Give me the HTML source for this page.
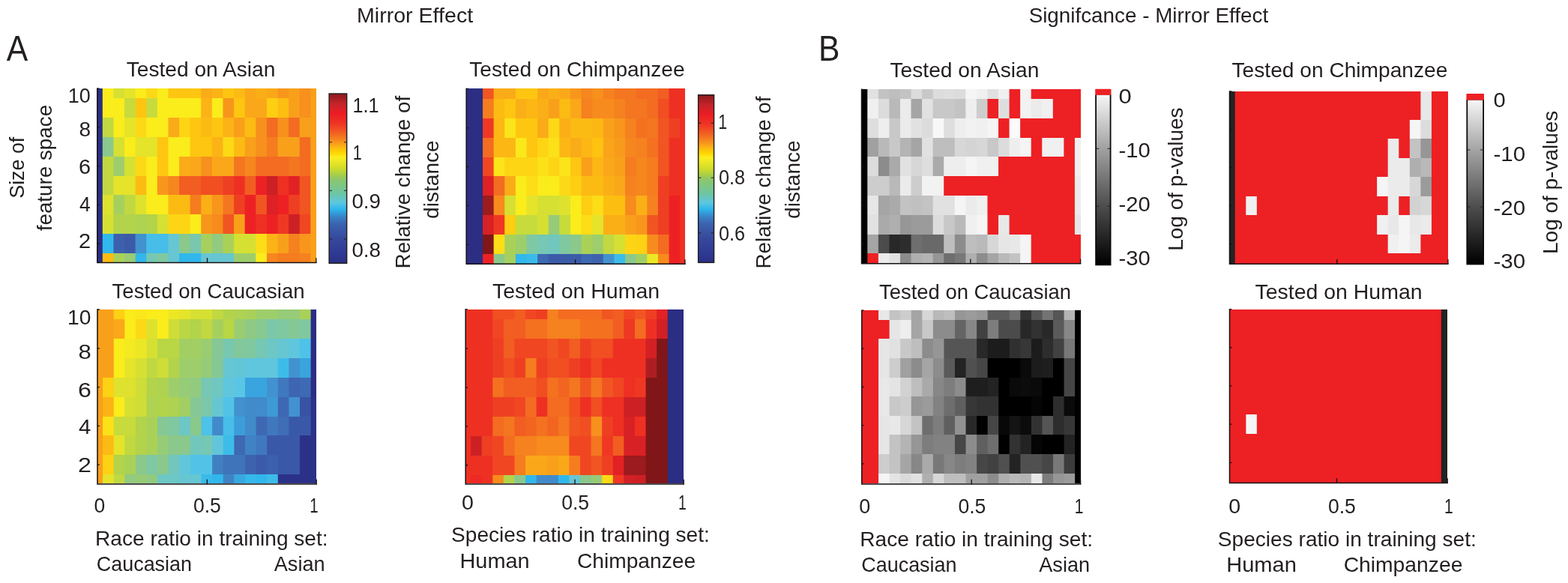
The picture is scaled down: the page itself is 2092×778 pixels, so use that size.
<!DOCTYPE html>
<html lang="en"><head><meta charset="utf-8"><title>Mirror Effect</title>
<style>
html,body{margin:0;padding:0;background:#fff}
body{width:2092px;height:778px;overflow:hidden}
svg{display:block}
text{font-family:"Liberation Sans",sans-serif;fill:#231f20}
</style></head><body>
<svg width="2092" height="778" viewBox="0 0 2092 778">
<defs><linearGradient id="gj" x1="0" y1="1" x2="0" y2="0"><stop offset="0.0000" stop-color="#2b2f86"/><stop offset="0.0570" stop-color="#2f3a93"/><stop offset="0.1425" stop-color="#36489c"/><stop offset="0.2290" stop-color="#3b62ae"/><stop offset="0.2700" stop-color="#3a7fc4"/><stop offset="0.3170" stop-color="#2db5ec"/><stop offset="0.3570" stop-color="#5cc8e0"/><stop offset="0.4050" stop-color="#6cc5a8"/><stop offset="0.4960" stop-color="#8cc76a"/><stop offset="0.5240" stop-color="#a8cf45"/><stop offset="0.5600" stop-color="#d0dc2a"/><stop offset="0.6250" stop-color="#fcee21"/><stop offset="0.6540" stop-color="#ffd400"/><stop offset="0.6820" stop-color="#fdb913"/><stop offset="0.7250" stop-color="#f6891f"/><stop offset="0.7760" stop-color="#f15a22"/><stop offset="0.8260" stop-color="#ee3424"/><stop offset="0.8830" stop-color="#ed1c24"/><stop offset="0.9400" stop-color="#c4242a"/><stop offset="1.0000" stop-color="#8e191c"/></linearGradient><linearGradient id="gg" x1="0" y1="0" x2="0" y2="1"><stop offset="0" stop-color="#f6f6f6"/><stop offset="0.32" stop-color="#a0a0a0"/><stop offset="0.65" stop-color="#4e4e4e"/><stop offset="1" stop-color="#000000"/></linearGradient></defs>
<rect width="2092" height="778" fill="#ffffff"/>
<g>
<rect x="129.60" y="118" width="292.40" height="13" fill="#2b2e83"/>
<rect x="136.80" y="118" width="285.20" height="13" fill="#fbec1c"/>
<rect x="151.41" y="118" width="270.60" height="13" fill="#d6e033"/>
<rect x="166.01" y="118" width="255.99" height="13" fill="#e5e42a"/>
<rect x="180.62" y="118" width="241.38" height="13" fill="#fbec1c"/>
<rect x="195.22" y="118" width="226.78" height="13" fill="#fcd916"/>
<rect x="209.83" y="118" width="212.17" height="13" fill="#fbec1c"/>
<rect x="224.43" y="118" width="197.57" height="13" fill="#fec610"/>
<rect x="268.25" y="118" width="153.75" height="13" fill="#faab18"/>
<rect x="282.85" y="118" width="139.15" height="13" fill="#fcb316"/>
<rect x="297.46" y="118" width="124.54" height="13" fill="#fec610"/>
<rect x="312.06" y="118" width="109.94" height="13" fill="#fcbb13"/>
<rect x="326.67" y="118" width="95.33" height="13" fill="#faa819"/>
<rect x="341.27" y="118" width="80.73" height="13" fill="#fbaf17"/>
<rect x="355.88" y="118" width="66.12" height="13" fill="#faa819"/>
<rect x="370.48" y="118" width="51.52" height="13" fill="#f8961c"/>
<rect x="385.09" y="118" width="36.91" height="13" fill="#f9a01b"/>
<rect x="399.69" y="118" width="22.31" height="13" fill="#f7901d"/>
<rect x="414.30" y="118" width="7.70" height="13" fill="#f9a01b"/>
<rect x="129.60" y="131" width="292.40" height="26" fill="#2b2e83"/>
<rect x="136.80" y="131" width="285.20" height="26" fill="#fbec1c"/>
<rect x="166.01" y="131" width="255.99" height="26" fill="#c8db3c"/>
<rect x="180.62" y="131" width="241.38" height="26" fill="#fec610"/>
<rect x="195.22" y="131" width="226.78" height="26" fill="#c8db3c"/>
<rect x="209.83" y="131" width="212.17" height="26" fill="#fbec1c"/>
<rect x="268.25" y="131" width="153.75" height="26" fill="#fcb316"/>
<rect x="282.85" y="131" width="139.15" height="26" fill="#fbec1c"/>
<rect x="297.46" y="131" width="124.54" height="26" fill="#f8961c"/>
<rect x="312.06" y="131" width="109.94" height="26" fill="#fec610"/>
<rect x="326.67" y="131" width="95.33" height="26" fill="#faa819"/>
<rect x="355.88" y="131" width="66.12" height="26" fill="#fdce12"/>
<rect x="370.48" y="131" width="51.52" height="26" fill="#fdbe12"/>
<rect x="385.09" y="131" width="36.91" height="26" fill="#f9a01b"/>
<rect x="399.69" y="131" width="22.31" height="26" fill="#f7901d"/>
<rect x="414.30" y="131" width="7.70" height="26" fill="#f9a01b"/>
<rect x="129.60" y="157" width="292.40" height="26" fill="#2b2e83"/>
<rect x="136.80" y="157" width="285.20" height="26" fill="#c1d841"/>
<rect x="151.41" y="157" width="270.60" height="26" fill="#fbec1c"/>
<rect x="166.01" y="157" width="255.99" height="26" fill="#e5e42a"/>
<rect x="180.62" y="157" width="241.38" height="26" fill="#fcd916"/>
<rect x="195.22" y="157" width="226.78" height="26" fill="#fbec1c"/>
<rect x="224.43" y="157" width="197.57" height="26" fill="#faab18"/>
<rect x="239.04" y="157" width="182.96" height="26" fill="#fdd515"/>
<rect x="253.64" y="157" width="168.36" height="26" fill="#fec610"/>
<rect x="268.25" y="157" width="153.75" height="26" fill="#fcbb13"/>
<rect x="282.85" y="157" width="139.15" height="26" fill="#fec610"/>
<rect x="297.46" y="157" width="124.54" height="26" fill="#fcb316"/>
<rect x="312.06" y="157" width="109.94" height="26" fill="#f9a01b"/>
<rect x="326.67" y="157" width="95.33" height="26" fill="#fcbb13"/>
<rect x="341.27" y="157" width="80.73" height="26" fill="#f7901d"/>
<rect x="355.88" y="157" width="66.12" height="26" fill="#f36c21"/>
<rect x="370.48" y="157" width="51.52" height="26" fill="#f7901d"/>
<rect x="385.09" y="157" width="36.91" height="26" fill="#f36c21"/>
<rect x="399.69" y="157" width="22.31" height="26" fill="#f9a01b"/>
<rect x="129.60" y="183" width="292.40" height="26" fill="#2b2e83"/>
<rect x="136.80" y="183" width="285.20" height="26" fill="#8ac88c"/>
<rect x="151.41" y="183" width="270.60" height="26" fill="#d6e033"/>
<rect x="166.01" y="183" width="255.99" height="26" fill="#fbec1c"/>
<rect x="180.62" y="183" width="241.38" height="26" fill="#e5e42a"/>
<rect x="209.83" y="183" width="212.17" height="26" fill="#fec610"/>
<rect x="224.43" y="183" width="197.57" height="26" fill="#fbec1c"/>
<rect x="253.64" y="183" width="168.36" height="26" fill="#fec610"/>
<rect x="282.85" y="183" width="139.15" height="26" fill="#fcb316"/>
<rect x="297.46" y="183" width="124.54" height="26" fill="#fcd916"/>
<rect x="312.06" y="183" width="109.94" height="26" fill="#fcbb13"/>
<rect x="326.67" y="183" width="95.33" height="26" fill="#f9a01b"/>
<rect x="341.27" y="183" width="80.73" height="26" fill="#f7901d"/>
<rect x="355.88" y="183" width="66.12" height="26" fill="#f57c1f"/>
<rect x="370.48" y="183" width="51.52" height="26" fill="#f9a01b"/>
<rect x="399.69" y="183" width="22.31" height="26" fill="#f36c21"/>
<rect x="414.30" y="183" width="7.70" height="26" fill="#f9a01b"/>
<rect x="129.60" y="209" width="292.40" height="26" fill="#2b2e83"/>
<rect x="136.80" y="209" width="285.20" height="26" fill="#c1d841"/>
<rect x="151.41" y="209" width="270.60" height="26" fill="#9ece6b"/>
<rect x="166.01" y="209" width="255.99" height="26" fill="#d6e033"/>
<rect x="180.62" y="209" width="241.38" height="26" fill="#fcd916"/>
<rect x="195.22" y="209" width="226.78" height="26" fill="#fbec1c"/>
<rect x="209.83" y="209" width="212.17" height="26" fill="#fec610"/>
<rect x="224.43" y="209" width="197.57" height="26" fill="#fbec1c"/>
<rect x="239.04" y="209" width="182.96" height="26" fill="#faab18"/>
<rect x="253.64" y="209" width="168.36" height="26" fill="#faa819"/>
<rect x="268.25" y="209" width="153.75" height="26" fill="#f7901d"/>
<rect x="282.85" y="209" width="139.15" height="26" fill="#faa819"/>
<rect x="312.06" y="209" width="109.94" height="26" fill="#f47620"/>
<rect x="326.67" y="209" width="95.33" height="26" fill="#f6861e"/>
<rect x="341.27" y="209" width="80.73" height="26" fill="#f36c21"/>
<rect x="385.09" y="209" width="36.91" height="26" fill="#f47620"/>
<rect x="399.69" y="209" width="22.31" height="26" fill="#f36c21"/>
<rect x="414.30" y="209" width="7.70" height="26" fill="#f9a01b"/>
<rect x="129.60" y="235" width="292.40" height="25" fill="#2b2e83"/>
<rect x="136.80" y="235" width="285.20" height="25" fill="#c1d841"/>
<rect x="151.41" y="235" width="270.60" height="25" fill="#e5e42a"/>
<rect x="180.62" y="235" width="241.38" height="25" fill="#fcbb13"/>
<rect x="195.22" y="235" width="226.78" height="25" fill="#fbec1c"/>
<rect x="209.83" y="235" width="212.17" height="25" fill="#f8961c"/>
<rect x="224.43" y="235" width="197.57" height="25" fill="#f6861e"/>
<rect x="239.04" y="235" width="182.96" height="25" fill="#f25d22"/>
<rect x="268.25" y="235" width="153.75" height="25" fill="#f14e22"/>
<rect x="297.46" y="235" width="124.54" height="25" fill="#ef3f23"/>
<rect x="312.06" y="235" width="109.94" height="25" fill="#ee3023"/>
<rect x="326.67" y="235" width="95.33" height="25" fill="#f25d22"/>
<rect x="341.27" y="235" width="80.73" height="25" fill="#ed2124"/>
<rect x="355.88" y="235" width="66.12" height="25" fill="#cd2025"/>
<rect x="370.48" y="235" width="51.52" height="25" fill="#ee3023"/>
<rect x="385.09" y="235" width="36.91" height="25" fill="#e22124"/>
<rect x="399.69" y="235" width="22.31" height="25" fill="#f15522"/>
<rect x="414.30" y="235" width="7.70" height="25" fill="#f9a01b"/>
<rect x="129.60" y="260" width="292.40" height="26" fill="#2b2e83"/>
<rect x="136.80" y="260" width="285.20" height="26" fill="#dee22e"/>
<rect x="151.41" y="260" width="270.60" height="26" fill="#a6d05e"/>
<rect x="166.01" y="260" width="255.99" height="26" fill="#c1d841"/>
<rect x="180.62" y="260" width="241.38" height="26" fill="#dee22e"/>
<rect x="195.22" y="260" width="226.78" height="26" fill="#fbec1c"/>
<rect x="224.43" y="260" width="197.57" height="26" fill="#fcbb13"/>
<rect x="253.64" y="260" width="168.36" height="26" fill="#f57c1f"/>
<rect x="268.25" y="260" width="153.75" height="26" fill="#fbaf17"/>
<rect x="282.85" y="260" width="139.15" height="26" fill="#f8961c"/>
<rect x="297.46" y="260" width="124.54" height="26" fill="#f47620"/>
<rect x="312.06" y="260" width="109.94" height="26" fill="#ef3f23"/>
<rect x="326.67" y="260" width="95.33" height="26" fill="#ed2124"/>
<rect x="341.27" y="260" width="80.73" height="26" fill="#f15522"/>
<rect x="355.88" y="260" width="66.12" height="26" fill="#dd2124"/>
<rect x="370.48" y="260" width="51.52" height="26" fill="#ed2124"/>
<rect x="385.09" y="260" width="36.91" height="26" fill="#ef3f23"/>
<rect x="399.69" y="260" width="22.31" height="26" fill="#f15522"/>
<rect x="414.30" y="260" width="7.70" height="26" fill="#f9a01b"/>
<rect x="129.60" y="286" width="292.40" height="26" fill="#2b2e83"/>
<rect x="136.80" y="286" width="285.20" height="26" fill="#d6e033"/>
<rect x="151.41" y="286" width="270.60" height="26" fill="#b2d34a"/>
<rect x="180.62" y="286" width="241.38" height="26" fill="#aed251"/>
<rect x="195.22" y="286" width="226.78" height="26" fill="#b2d34a"/>
<rect x="209.83" y="286" width="212.17" height="26" fill="#d6e033"/>
<rect x="224.43" y="286" width="197.57" height="26" fill="#fdd515"/>
<rect x="253.64" y="286" width="168.36" height="26" fill="#fbec1c"/>
<rect x="268.25" y="286" width="153.75" height="26" fill="#f8961c"/>
<rect x="282.85" y="286" width="139.15" height="26" fill="#f78b1d"/>
<rect x="297.46" y="286" width="124.54" height="26" fill="#f15522"/>
<rect x="312.06" y="286" width="109.94" height="26" fill="#f9a01b"/>
<rect x="326.67" y="286" width="95.33" height="26" fill="#ed2124"/>
<rect x="341.27" y="286" width="80.73" height="26" fill="#ee3023"/>
<rect x="355.88" y="286" width="66.12" height="26" fill="#ed2124"/>
<rect x="370.48" y="286" width="51.52" height="26" fill="#ef3823"/>
<rect x="385.09" y="286" width="36.91" height="26" fill="#cd2025"/>
<rect x="399.69" y="286" width="22.31" height="26" fill="#f04622"/>
<rect x="414.30" y="286" width="7.70" height="26" fill="#f9a01b"/>
<rect x="129.60" y="312" width="292.40" height="26" fill="#2b2e83"/>
<rect x="136.80" y="312" width="285.20" height="26" fill="#31b7ec"/>
<rect x="151.41" y="312" width="270.60" height="26" fill="#3c60ad"/>
<rect x="166.01" y="312" width="255.99" height="26" fill="#3b5ba9"/>
<rect x="180.62" y="312" width="241.38" height="26" fill="#4192cf"/>
<rect x="195.22" y="312" width="226.78" height="26" fill="#46bee9"/>
<rect x="224.43" y="312" width="197.57" height="26" fill="#66c6d2"/>
<rect x="239.04" y="312" width="182.96" height="26" fill="#8ac88c"/>
<rect x="253.64" y="312" width="168.36" height="26" fill="#78c7ae"/>
<rect x="268.25" y="312" width="153.75" height="26" fill="#a6d05e"/>
<rect x="282.85" y="312" width="139.15" height="26" fill="#92ca7f"/>
<rect x="297.46" y="312" width="124.54" height="26" fill="#aad157"/>
<rect x="312.06" y="312" width="109.94" height="26" fill="#d6e033"/>
<rect x="341.27" y="312" width="80.73" height="26" fill="#fcdd17"/>
<rect x="355.88" y="312" width="66.12" height="26" fill="#fcb316"/>
<rect x="370.48" y="312" width="51.52" height="26" fill="#f9a01b"/>
<rect x="385.09" y="312" width="36.91" height="26" fill="#f5811f"/>
<rect x="399.69" y="312" width="22.31" height="26" fill="#f8961c"/>
<rect x="414.30" y="312" width="7.70" height="26" fill="#f9a01b"/>
<rect x="129.60" y="338" width="292.40" height="12" fill="#2b2e83"/>
<rect x="136.80" y="338" width="285.20" height="12" fill="#fcbb13"/>
<rect x="151.41" y="338" width="270.60" height="12" fill="#aad157"/>
<rect x="166.01" y="338" width="255.99" height="12" fill="#9acc72"/>
<rect x="180.62" y="338" width="241.38" height="12" fill="#31b7ec"/>
<rect x="195.22" y="338" width="226.78" height="12" fill="#76c7b3"/>
<rect x="209.83" y="338" width="212.17" height="12" fill="#80c8a0"/>
<rect x="224.43" y="338" width="197.57" height="12" fill="#66c6d2"/>
<rect x="239.04" y="338" width="182.96" height="12" fill="#31b7ec"/>
<rect x="268.25" y="338" width="153.75" height="12" fill="#66c6d2"/>
<rect x="312.06" y="338" width="109.94" height="12" fill="#9ece6b"/>
<rect x="341.27" y="338" width="80.73" height="12" fill="#fbec1c"/>
<rect x="355.88" y="338" width="66.12" height="12" fill="#f6861e"/>
<rect x="370.48" y="338" width="51.52" height="12" fill="#f57c1f"/>
<rect x="399.69" y="338" width="22.31" height="12" fill="#f5811f"/>
<rect x="414.30" y="338" width="7.70" height="12" fill="#f9a01b"/>
</g>
<path d="M129.80 117.60V350.40H422.50" fill="none" stroke="#151112" stroke-width="1.5"/>
<path d="M276.50 350.70v-6.5M421.80 350.70v-6.5M129.60 169.96h3M129.60 221.64h3M129.60 273.32h3M129.60 325.00h3M129.60 118.10h3" fill="none" stroke="#151112" stroke-width="1.3"/>
<g>
<rect x="622.00" y="118" width="292.00" height="14" fill="#2b2e83"/>
<rect x="644.02" y="118" width="269.98" height="14" fill="#f15522"/>
<rect x="658.64" y="118" width="255.36" height="14" fill="#faab18"/>
<rect x="687.88" y="118" width="226.12" height="14" fill="#fec610"/>
<rect x="717.12" y="118" width="196.88" height="14" fill="#faa819"/>
<rect x="731.74" y="118" width="182.26" height="14" fill="#fbaf17"/>
<rect x="746.36" y="118" width="167.64" height="14" fill="#faa819"/>
<rect x="760.98" y="118" width="153.02" height="14" fill="#f8961c"/>
<rect x="775.60" y="118" width="138.40" height="14" fill="#f6861e"/>
<rect x="790.22" y="118" width="123.78" height="14" fill="#f7901d"/>
<rect x="804.84" y="118" width="109.16" height="14" fill="#f5811f"/>
<rect x="819.46" y="118" width="94.54" height="14" fill="#f47620"/>
<rect x="848.70" y="118" width="65.30" height="14" fill="#f36c21"/>
<rect x="877.94" y="118" width="36.06" height="14" fill="#f25d22"/>
<rect x="892.56" y="118" width="21.44" height="14" fill="#ee3023"/>
<rect x="622.00" y="132" width="292.00" height="26" fill="#2b2e83"/>
<rect x="644.02" y="132" width="269.98" height="26" fill="#f57c1f"/>
<rect x="658.64" y="132" width="255.36" height="26" fill="#fcbb13"/>
<rect x="673.26" y="132" width="240.74" height="26" fill="#fec610"/>
<rect x="687.88" y="132" width="226.12" height="26" fill="#fbaf17"/>
<rect x="702.50" y="132" width="211.50" height="26" fill="#fcb714"/>
<rect x="717.12" y="132" width="196.88" height="26" fill="#fbaf17"/>
<rect x="731.74" y="132" width="182.26" height="26" fill="#f9a01b"/>
<rect x="746.36" y="132" width="167.64" height="26" fill="#fcbb13"/>
<rect x="760.98" y="132" width="153.02" height="26" fill="#faa819"/>
<rect x="775.60" y="132" width="138.40" height="26" fill="#f5811f"/>
<rect x="790.22" y="132" width="123.78" height="26" fill="#f78b1d"/>
<rect x="819.46" y="132" width="94.54" height="26" fill="#f5811f"/>
<rect x="834.08" y="132" width="79.92" height="26" fill="#f47620"/>
<rect x="863.32" y="132" width="50.68" height="26" fill="#f36c21"/>
<rect x="877.94" y="132" width="36.06" height="26" fill="#f14e22"/>
<rect x="892.56" y="132" width="21.44" height="26" fill="#ee3023"/>
<rect x="622.00" y="158" width="292.00" height="26" fill="#2b2e83"/>
<rect x="644.02" y="158" width="269.98" height="26" fill="#ef3823"/>
<rect x="658.64" y="158" width="255.36" height="26" fill="#fcb714"/>
<rect x="673.26" y="158" width="240.74" height="26" fill="#fce41a"/>
<rect x="687.88" y="158" width="226.12" height="26" fill="#fec610"/>
<rect x="717.12" y="158" width="196.88" height="26" fill="#faab18"/>
<rect x="731.74" y="158" width="182.26" height="26" fill="#fcd916"/>
<rect x="746.36" y="158" width="167.64" height="26" fill="#fbaf17"/>
<rect x="760.98" y="158" width="153.02" height="26" fill="#fcbb13"/>
<rect x="790.22" y="158" width="123.78" height="26" fill="#fcb714"/>
<rect x="804.84" y="158" width="109.16" height="26" fill="#f9a01b"/>
<rect x="819.46" y="158" width="94.54" height="26" fill="#f8961c"/>
<rect x="834.08" y="158" width="79.92" height="26" fill="#f5811f"/>
<rect x="848.70" y="158" width="65.30" height="26" fill="#f47120"/>
<rect x="863.32" y="158" width="50.68" height="26" fill="#f47620"/>
<rect x="877.94" y="158" width="36.06" height="26" fill="#f15522"/>
<rect x="892.56" y="158" width="21.44" height="26" fill="#ef3f23"/>
<rect x="907.18" y="158" width="6.82" height="26" fill="#ee3023"/>
<rect x="622.00" y="184" width="292.00" height="26" fill="#2b2e83"/>
<rect x="644.02" y="184" width="269.98" height="26" fill="#f36c21"/>
<rect x="658.64" y="184" width="255.36" height="26" fill="#fcb714"/>
<rect x="687.88" y="184" width="226.12" height="26" fill="#fbe81b"/>
<rect x="702.50" y="184" width="211.50" height="26" fill="#fec610"/>
<rect x="717.12" y="184" width="196.88" height="26" fill="#fdd515"/>
<rect x="731.74" y="184" width="182.26" height="26" fill="#fce118"/>
<rect x="746.36" y="184" width="167.64" height="26" fill="#fcb714"/>
<rect x="760.98" y="184" width="153.02" height="26" fill="#faab18"/>
<rect x="775.60" y="184" width="138.40" height="26" fill="#fcb714"/>
<rect x="790.22" y="184" width="123.78" height="26" fill="#fec211"/>
<rect x="804.84" y="184" width="109.16" height="26" fill="#faa41a"/>
<rect x="819.46" y="184" width="94.54" height="26" fill="#f89b1c"/>
<rect x="834.08" y="184" width="79.92" height="26" fill="#f6861e"/>
<rect x="848.70" y="184" width="65.30" height="26" fill="#f5811f"/>
<rect x="863.32" y="184" width="50.68" height="26" fill="#f47120"/>
<rect x="877.94" y="184" width="36.06" height="26" fill="#f15522"/>
<rect x="892.56" y="184" width="21.44" height="26" fill="#ee3023"/>
<rect x="622.00" y="210" width="292.00" height="25" fill="#2b2e83"/>
<rect x="644.02" y="210" width="269.98" height="25" fill="#f04622"/>
<rect x="658.64" y="210" width="255.36" height="25" fill="#fce41a"/>
<rect x="673.26" y="210" width="240.74" height="25" fill="#fdd515"/>
<rect x="717.12" y="210" width="196.88" height="25" fill="#fce118"/>
<rect x="731.74" y="210" width="182.26" height="25" fill="#fdd515"/>
<rect x="746.36" y="210" width="167.64" height="25" fill="#fce41a"/>
<rect x="760.98" y="210" width="153.02" height="25" fill="#fec610"/>
<rect x="775.60" y="210" width="138.40" height="25" fill="#f9a01b"/>
<rect x="790.22" y="210" width="123.78" height="25" fill="#fcb714"/>
<rect x="804.84" y="210" width="109.16" height="25" fill="#faa819"/>
<rect x="819.46" y="210" width="94.54" height="25" fill="#f9a01b"/>
<rect x="834.08" y="210" width="79.92" height="25" fill="#f57c1f"/>
<rect x="848.70" y="210" width="65.30" height="25" fill="#f6861e"/>
<rect x="863.32" y="210" width="50.68" height="25" fill="#f57c1f"/>
<rect x="877.94" y="210" width="36.06" height="25" fill="#f15522"/>
<rect x="892.56" y="210" width="21.44" height="25" fill="#ee3023"/>
<rect x="622.00" y="235" width="292.00" height="26" fill="#2b2e83"/>
<rect x="644.02" y="235" width="269.98" height="26" fill="#dd2124"/>
<rect x="658.64" y="235" width="255.36" height="26" fill="#f36c21"/>
<rect x="673.26" y="235" width="240.74" height="26" fill="#faab18"/>
<rect x="687.88" y="235" width="226.12" height="26" fill="#fbec1c"/>
<rect x="702.50" y="235" width="211.50" height="26" fill="#fcdd17"/>
<rect x="717.12" y="235" width="196.88" height="26" fill="#fbec1c"/>
<rect x="746.36" y="235" width="167.64" height="26" fill="#fcd916"/>
<rect x="760.98" y="235" width="153.02" height="26" fill="#fdce12"/>
<rect x="775.60" y="235" width="138.40" height="26" fill="#fcbb13"/>
<rect x="804.84" y="235" width="109.16" height="26" fill="#fbaf17"/>
<rect x="819.46" y="235" width="94.54" height="26" fill="#faa819"/>
<rect x="834.08" y="235" width="79.92" height="26" fill="#f5811f"/>
<rect x="848.70" y="235" width="65.30" height="26" fill="#f6861e"/>
<rect x="863.32" y="235" width="50.68" height="26" fill="#f57c1f"/>
<rect x="877.94" y="235" width="36.06" height="26" fill="#ef3f23"/>
<rect x="892.56" y="235" width="21.44" height="26" fill="#ee3023"/>
<rect x="622.00" y="261" width="292.00" height="26" fill="#2b2e83"/>
<rect x="644.02" y="261" width="269.98" height="26" fill="#9c1b1e"/>
<rect x="658.64" y="261" width="255.36" height="26" fill="#f78b1d"/>
<rect x="673.26" y="261" width="240.74" height="26" fill="#d6e033"/>
<rect x="687.88" y="261" width="226.12" height="26" fill="#fbec1c"/>
<rect x="702.50" y="261" width="211.50" height="26" fill="#e5e42a"/>
<rect x="717.12" y="261" width="196.88" height="26" fill="#d6e033"/>
<rect x="746.36" y="261" width="167.64" height="26" fill="#dee22e"/>
<rect x="760.98" y="261" width="153.02" height="26" fill="#fbec1c"/>
<rect x="775.60" y="261" width="138.40" height="26" fill="#fdce12"/>
<rect x="790.22" y="261" width="123.78" height="26" fill="#fcdd17"/>
<rect x="804.84" y="261" width="109.16" height="26" fill="#fdbe12"/>
<rect x="834.08" y="261" width="79.92" height="26" fill="#f78b1d"/>
<rect x="848.70" y="261" width="65.30" height="26" fill="#fbaf17"/>
<rect x="863.32" y="261" width="50.68" height="26" fill="#f5811f"/>
<rect x="877.94" y="261" width="36.06" height="26" fill="#ef3f23"/>
<rect x="892.56" y="261" width="21.44" height="26" fill="#ed2124"/>
<rect x="907.18" y="261" width="6.82" height="26" fill="#ee3023"/>
<rect x="622.00" y="287" width="292.00" height="26" fill="#2b2e83"/>
<rect x="644.02" y="287" width="269.98" height="26" fill="#d82124"/>
<rect x="658.64" y="287" width="255.36" height="26" fill="#ef3823"/>
<rect x="673.26" y="287" width="240.74" height="26" fill="#fdce12"/>
<rect x="687.88" y="287" width="226.12" height="26" fill="#c8db3c"/>
<rect x="717.12" y="287" width="196.88" height="26" fill="#d6e033"/>
<rect x="731.74" y="287" width="182.26" height="26" fill="#96cb78"/>
<rect x="746.36" y="287" width="167.64" height="26" fill="#c8db3c"/>
<rect x="760.98" y="287" width="153.02" height="26" fill="#fbec1c"/>
<rect x="775.60" y="287" width="138.40" height="26" fill="#fcdd17"/>
<rect x="790.22" y="287" width="123.78" height="26" fill="#e5e42a"/>
<rect x="804.84" y="287" width="109.16" height="26" fill="#fbaf17"/>
<rect x="834.08" y="287" width="79.92" height="26" fill="#f9a01b"/>
<rect x="848.70" y="287" width="65.30" height="26" fill="#f8961c"/>
<rect x="863.32" y="287" width="50.68" height="26" fill="#f15522"/>
<rect x="877.94" y="287" width="36.06" height="26" fill="#ef3f23"/>
<rect x="892.56" y="287" width="21.44" height="26" fill="#ed2124"/>
<rect x="907.18" y="287" width="6.82" height="26" fill="#ee3023"/>
<rect x="622.00" y="313" width="292.00" height="26" fill="#2b2e83"/>
<rect x="644.02" y="313" width="269.98" height="26" fill="#801618"/>
<rect x="658.64" y="313" width="255.36" height="26" fill="#fcdd17"/>
<rect x="673.26" y="313" width="240.74" height="26" fill="#aad157"/>
<rect x="687.88" y="313" width="226.12" height="26" fill="#9ece6b"/>
<rect x="702.50" y="313" width="211.50" height="26" fill="#7ec8a4"/>
<rect x="717.12" y="313" width="196.88" height="26" fill="#76c7b3"/>
<rect x="731.74" y="313" width="182.26" height="26" fill="#71c7bd"/>
<rect x="746.36" y="313" width="167.64" height="26" fill="#80c8a0"/>
<rect x="760.98" y="313" width="153.02" height="26" fill="#8ac88c"/>
<rect x="775.60" y="313" width="138.40" height="26" fill="#aad157"/>
<rect x="790.22" y="313" width="123.78" height="26" fill="#9ece6b"/>
<rect x="804.84" y="313" width="109.16" height="26" fill="#c1d841"/>
<rect x="819.46" y="313" width="94.54" height="26" fill="#d6e033"/>
<rect x="834.08" y="313" width="79.92" height="26" fill="#fdd515"/>
<rect x="848.70" y="313" width="65.30" height="26" fill="#fdd114"/>
<rect x="863.32" y="313" width="50.68" height="26" fill="#f78b1d"/>
<rect x="877.94" y="313" width="36.06" height="26" fill="#f36c21"/>
<rect x="892.56" y="313" width="21.44" height="26" fill="#ed2124"/>
<rect x="907.18" y="313" width="6.82" height="26" fill="#ee3023"/>
<rect x="622.00" y="339" width="292.00" height="13" fill="#2b2e83"/>
<rect x="644.02" y="339" width="269.98" height="13" fill="#ed2124"/>
<rect x="658.64" y="339" width="255.36" height="13" fill="#8ac88c"/>
<rect x="673.26" y="339" width="240.74" height="13" fill="#a6d05e"/>
<rect x="687.88" y="339" width="226.12" height="13" fill="#31b7ec"/>
<rect x="702.50" y="339" width="211.50" height="13" fill="#39baeb"/>
<rect x="717.12" y="339" width="196.88" height="13" fill="#3e68b2"/>
<rect x="731.74" y="339" width="182.26" height="13" fill="#3b5ba9"/>
<rect x="775.60" y="339" width="138.40" height="13" fill="#3e68b2"/>
<rect x="790.22" y="339" width="123.78" height="13" fill="#3d63af"/>
<rect x="804.84" y="339" width="109.16" height="13" fill="#4192cf"/>
<rect x="819.46" y="339" width="94.54" height="13" fill="#3dbcea"/>
<rect x="834.08" y="339" width="79.92" height="13" fill="#8ac88c"/>
<rect x="848.70" y="339" width="65.30" height="13" fill="#a2cf64"/>
<rect x="863.32" y="339" width="50.68" height="13" fill="#ece725"/>
<rect x="877.94" y="339" width="36.06" height="13" fill="#f78b1d"/>
<rect x="892.56" y="339" width="21.44" height="13" fill="#ed2124"/>
<rect x="907.18" y="339" width="6.82" height="13" fill="#ee3023"/>
</g>
<path d="M622.20 117.80V352.35H914.60" fill="none" stroke="#151112" stroke-width="1.5"/>
<path d="M767.60 352.65v-6.5M913.90 352.65v-6.5M622.00 170.56h3M622.00 222.50h3M622.00 274.43h3M622.00 326.38h3M622.00 118.30h3" fill="none" stroke="#151112" stroke-width="1.3"/>
<g>
<rect x="129.80" y="413" width="292.20" height="13" fill="#f9a01b"/>
<rect x="151.70" y="413" width="270.30" height="13" fill="#fdd114"/>
<rect x="166.31" y="413" width="255.69" height="13" fill="#fbec1c"/>
<rect x="180.91" y="413" width="241.09" height="13" fill="#fbe81b"/>
<rect x="195.52" y="413" width="226.48" height="13" fill="#fbec1c"/>
<rect x="224.73" y="413" width="197.27" height="13" fill="#ece725"/>
<rect x="239.33" y="413" width="182.67" height="13" fill="#e5e42a"/>
<rect x="253.94" y="413" width="168.06" height="13" fill="#d6e033"/>
<rect x="283.15" y="413" width="138.85" height="13" fill="#c1d841"/>
<rect x="297.75" y="413" width="124.25" height="13" fill="#b2d34a"/>
<rect x="312.36" y="413" width="109.64" height="13" fill="#aed251"/>
<rect x="326.97" y="413" width="95.03" height="13" fill="#aad157"/>
<rect x="341.57" y="413" width="80.43" height="13" fill="#9ece6b"/>
<rect x="370.78" y="413" width="51.22" height="13" fill="#96cb78"/>
<rect x="399.99" y="413" width="22.01" height="13" fill="#aad157"/>
<rect x="414.60" y="413" width="7.40" height="13" fill="#2b2e83"/>
<rect x="129.80" y="426" width="292.20" height="26" fill="#f9a01b"/>
<rect x="151.70" y="426" width="270.30" height="26" fill="#faa819"/>
<rect x="166.31" y="426" width="255.69" height="26" fill="#fbec1c"/>
<rect x="180.91" y="426" width="241.09" height="26" fill="#fcd916"/>
<rect x="195.52" y="426" width="226.48" height="26" fill="#dee22e"/>
<rect x="210.12" y="426" width="211.88" height="26" fill="#fbec1c"/>
<rect x="224.73" y="426" width="197.27" height="26" fill="#cfdd38"/>
<rect x="239.33" y="426" width="182.67" height="26" fill="#b9d645"/>
<rect x="253.94" y="426" width="168.06" height="26" fill="#b2d34a"/>
<rect x="268.54" y="426" width="153.46" height="26" fill="#c1d841"/>
<rect x="283.15" y="426" width="138.85" height="26" fill="#a6d05e"/>
<rect x="297.75" y="426" width="124.25" height="26" fill="#b9d645"/>
<rect x="312.36" y="426" width="109.64" height="26" fill="#9acc72"/>
<rect x="326.97" y="426" width="95.03" height="26" fill="#8ec985"/>
<rect x="341.57" y="426" width="80.43" height="26" fill="#88c891"/>
<rect x="356.18" y="426" width="65.82" height="26" fill="#7bc7a9"/>
<rect x="370.78" y="426" width="51.22" height="26" fill="#80c8a0"/>
<rect x="385.38" y="426" width="36.62" height="26" fill="#85c896"/>
<rect x="399.99" y="426" width="22.01" height="26" fill="#80c8a0"/>
<rect x="414.60" y="426" width="7.40" height="26" fill="#2b2e83"/>
<rect x="129.80" y="452" width="292.20" height="26" fill="#f9a01b"/>
<rect x="151.70" y="452" width="270.30" height="26" fill="#fbec1c"/>
<rect x="166.31" y="452" width="255.69" height="26" fill="#f4ea21"/>
<rect x="180.91" y="452" width="241.09" height="26" fill="#ece725"/>
<rect x="195.52" y="452" width="226.48" height="26" fill="#d6e033"/>
<rect x="210.12" y="452" width="211.88" height="26" fill="#b9d645"/>
<rect x="239.33" y="452" width="182.67" height="26" fill="#a2cf64"/>
<rect x="268.54" y="452" width="153.46" height="26" fill="#9acc72"/>
<rect x="283.15" y="452" width="138.85" height="26" fill="#85c896"/>
<rect x="297.75" y="452" width="124.25" height="26" fill="#78c7ae"/>
<rect x="312.36" y="452" width="109.64" height="26" fill="#82c89b"/>
<rect x="326.97" y="452" width="95.03" height="26" fill="#80c8a0"/>
<rect x="341.57" y="452" width="80.43" height="26" fill="#76c7b3"/>
<rect x="356.18" y="452" width="65.82" height="26" fill="#6cc7c5"/>
<rect x="370.78" y="452" width="51.22" height="26" fill="#66c6d2"/>
<rect x="385.38" y="452" width="36.62" height="26" fill="#5fc6de"/>
<rect x="399.99" y="452" width="22.01" height="26" fill="#4ec2e8"/>
<rect x="414.60" y="452" width="7.40" height="26" fill="#2b2e83"/>
<rect x="129.80" y="478" width="292.20" height="26" fill="#f9a01b"/>
<rect x="151.70" y="478" width="270.30" height="26" fill="#fbec1c"/>
<rect x="166.31" y="478" width="255.69" height="26" fill="#e5e42a"/>
<rect x="180.91" y="478" width="241.09" height="26" fill="#d6e033"/>
<rect x="195.52" y="478" width="226.48" height="26" fill="#c1d841"/>
<rect x="210.12" y="478" width="211.88" height="26" fill="#cfdd38"/>
<rect x="224.73" y="478" width="197.27" height="26" fill="#b2d34a"/>
<rect x="239.33" y="478" width="182.67" height="26" fill="#9ece6b"/>
<rect x="268.54" y="478" width="153.46" height="26" fill="#96cb78"/>
<rect x="283.15" y="478" width="138.85" height="26" fill="#85c896"/>
<rect x="297.75" y="478" width="124.25" height="26" fill="#66c6d2"/>
<rect x="312.36" y="478" width="109.64" height="26" fill="#63c6d6"/>
<rect x="326.97" y="478" width="95.03" height="26" fill="#5fc6de"/>
<rect x="370.78" y="478" width="51.22" height="26" fill="#3dbcea"/>
<rect x="385.38" y="478" width="36.62" height="26" fill="#4192cf"/>
<rect x="399.99" y="478" width="22.01" height="26" fill="#39a4de"/>
<rect x="414.60" y="478" width="7.40" height="26" fill="#2b2e83"/>
<rect x="129.80" y="504" width="292.20" height="26" fill="#f9a01b"/>
<rect x="137.10" y="504" width="284.90" height="26" fill="#fdd114"/>
<rect x="151.70" y="504" width="270.30" height="26" fill="#dee22e"/>
<rect x="180.91" y="504" width="241.09" height="26" fill="#cfdd38"/>
<rect x="195.52" y="504" width="226.48" height="26" fill="#b2d34a"/>
<rect x="210.12" y="504" width="211.88" height="26" fill="#aed251"/>
<rect x="224.73" y="504" width="197.27" height="26" fill="#9ece6b"/>
<rect x="239.33" y="504" width="182.67" height="26" fill="#96cb78"/>
<rect x="253.94" y="504" width="168.06" height="26" fill="#92ca7f"/>
<rect x="268.54" y="504" width="153.46" height="26" fill="#76c7b3"/>
<rect x="283.15" y="504" width="138.85" height="26" fill="#6fc7c1"/>
<rect x="297.75" y="504" width="124.25" height="26" fill="#5fc6de"/>
<rect x="312.36" y="504" width="109.64" height="26" fill="#5ac6e6"/>
<rect x="326.97" y="504" width="95.03" height="26" fill="#39a4de"/>
<rect x="356.18" y="504" width="65.82" height="26" fill="#4192cf"/>
<rect x="370.78" y="504" width="51.22" height="26" fill="#4078be"/>
<rect x="385.38" y="504" width="36.62" height="26" fill="#3d65b1"/>
<rect x="399.99" y="504" width="22.01" height="26" fill="#3e6ab4"/>
<rect x="414.60" y="504" width="7.40" height="26" fill="#2b2e83"/>
<rect x="129.80" y="530" width="292.20" height="26" fill="#f9a01b"/>
<rect x="137.10" y="530" width="284.90" height="26" fill="#fcb316"/>
<rect x="151.70" y="530" width="270.30" height="26" fill="#fbec1c"/>
<rect x="166.31" y="530" width="255.69" height="26" fill="#d6e033"/>
<rect x="180.91" y="530" width="241.09" height="26" fill="#cfdd38"/>
<rect x="195.52" y="530" width="226.48" height="26" fill="#aed251"/>
<rect x="210.12" y="530" width="211.88" height="26" fill="#b2d34a"/>
<rect x="224.73" y="530" width="197.27" height="26" fill="#aed251"/>
<rect x="239.33" y="530" width="182.67" height="26" fill="#a2cf64"/>
<rect x="253.94" y="530" width="168.06" height="26" fill="#85c896"/>
<rect x="268.54" y="530" width="153.46" height="26" fill="#7bc7a9"/>
<rect x="283.15" y="530" width="138.85" height="26" fill="#66c6d2"/>
<rect x="297.75" y="530" width="124.25" height="26" fill="#52c3e7"/>
<rect x="312.36" y="530" width="109.64" height="26" fill="#4192cf"/>
<rect x="326.97" y="530" width="95.03" height="26" fill="#418bca"/>
<rect x="356.18" y="530" width="65.82" height="26" fill="#3e99d5"/>
<rect x="370.78" y="530" width="51.22" height="26" fill="#3e68b2"/>
<rect x="385.38" y="530" width="36.62" height="26" fill="#4192cf"/>
<rect x="399.99" y="530" width="22.01" height="26" fill="#3953a4"/>
<rect x="414.60" y="530" width="7.40" height="26" fill="#2c328a"/>
<rect x="129.80" y="556" width="292.20" height="25" fill="#f9a01b"/>
<rect x="137.10" y="556" width="284.90" height="25" fill="#fce118"/>
<rect x="151.70" y="556" width="270.30" height="25" fill="#c8db3c"/>
<rect x="180.91" y="556" width="241.09" height="25" fill="#b2d34a"/>
<rect x="195.52" y="556" width="226.48" height="25" fill="#aad157"/>
<rect x="210.12" y="556" width="211.88" height="25" fill="#85c896"/>
<rect x="224.73" y="556" width="197.27" height="25" fill="#80c8a0"/>
<rect x="239.33" y="556" width="182.67" height="25" fill="#6cc7c5"/>
<rect x="253.94" y="556" width="168.06" height="25" fill="#8ac88c"/>
<rect x="268.54" y="556" width="153.46" height="25" fill="#4ec2e8"/>
<rect x="283.15" y="556" width="138.85" height="25" fill="#418bca"/>
<rect x="297.75" y="556" width="124.25" height="25" fill="#46bee9"/>
<rect x="312.36" y="556" width="109.64" height="25" fill="#3c9dd8"/>
<rect x="326.97" y="556" width="95.03" height="25" fill="#418bca"/>
<rect x="341.57" y="556" width="80.43" height="25" fill="#3e68b2"/>
<rect x="356.18" y="556" width="65.82" height="25" fill="#4078be"/>
<rect x="370.78" y="556" width="51.22" height="25" fill="#3f6db6"/>
<rect x="385.38" y="556" width="36.62" height="25" fill="#3a58a8"/>
<rect x="414.60" y="556" width="7.40" height="25" fill="#2c328a"/>
<rect x="129.80" y="581" width="292.20" height="26" fill="#f9a01b"/>
<rect x="137.10" y="581" width="284.90" height="26" fill="#fcbb13"/>
<rect x="151.70" y="581" width="270.30" height="26" fill="#e5e42a"/>
<rect x="166.31" y="581" width="255.69" height="26" fill="#c1d841"/>
<rect x="180.91" y="581" width="241.09" height="26" fill="#b2d34a"/>
<rect x="195.52" y="581" width="226.48" height="26" fill="#aad157"/>
<rect x="210.12" y="581" width="211.88" height="26" fill="#96cb78"/>
<rect x="224.73" y="581" width="197.27" height="26" fill="#8ac88c"/>
<rect x="253.94" y="581" width="168.06" height="26" fill="#71c7bd"/>
<rect x="268.54" y="581" width="153.46" height="26" fill="#76c7b3"/>
<rect x="283.15" y="581" width="138.85" height="26" fill="#61c6da"/>
<rect x="297.75" y="581" width="124.25" height="26" fill="#3dbcea"/>
<rect x="312.36" y="581" width="109.64" height="26" fill="#3e68b2"/>
<rect x="326.97" y="581" width="95.03" height="26" fill="#4083c5"/>
<rect x="341.57" y="581" width="80.43" height="26" fill="#4078be"/>
<rect x="356.18" y="581" width="65.82" height="26" fill="#3a58a8"/>
<rect x="399.99" y="581" width="22.01" height="26" fill="#2c3188"/>
<rect x="129.80" y="607" width="292.20" height="26" fill="#f9a01b"/>
<rect x="137.10" y="607" width="284.90" height="26" fill="#fdd114"/>
<rect x="151.70" y="607" width="270.30" height="26" fill="#b2d34a"/>
<rect x="166.31" y="607" width="255.69" height="26" fill="#aad157"/>
<rect x="180.91" y="607" width="241.09" height="26" fill="#8ac88c"/>
<rect x="195.52" y="607" width="226.48" height="26" fill="#7ec8a4"/>
<rect x="210.12" y="607" width="211.88" height="26" fill="#8ac88c"/>
<rect x="224.73" y="607" width="197.27" height="26" fill="#71c7bd"/>
<rect x="239.33" y="607" width="182.67" height="26" fill="#61c6da"/>
<rect x="253.94" y="607" width="168.06" height="26" fill="#52c3e7"/>
<rect x="283.15" y="607" width="138.85" height="26" fill="#4080c2"/>
<rect x="297.75" y="607" width="124.25" height="26" fill="#3f74bb"/>
<rect x="326.97" y="607" width="95.03" height="26" fill="#3d63af"/>
<rect x="341.57" y="607" width="80.43" height="26" fill="#3b5ba9"/>
<rect x="356.18" y="607" width="65.82" height="26" fill="#3c60ad"/>
<rect x="370.78" y="607" width="51.22" height="26" fill="#3a58a8"/>
<rect x="399.99" y="607" width="22.01" height="26" fill="#2c3188"/>
<rect x="129.80" y="633" width="292.20" height="12" fill="#f9a01b"/>
<rect x="137.10" y="633" width="284.90" height="12" fill="#e5e42a"/>
<rect x="151.70" y="633" width="270.30" height="12" fill="#c1d841"/>
<rect x="166.31" y="633" width="255.69" height="12" fill="#92ca7f"/>
<rect x="180.91" y="633" width="241.09" height="12" fill="#96cb78"/>
<rect x="195.52" y="633" width="226.48" height="12" fill="#92ca7f"/>
<rect x="210.12" y="633" width="211.88" height="12" fill="#6cc7c5"/>
<rect x="239.33" y="633" width="182.67" height="12" fill="#66c6d2"/>
<rect x="268.54" y="633" width="153.46" height="12" fill="#39baeb"/>
<rect x="283.15" y="633" width="138.85" height="12" fill="#31b7ec"/>
<rect x="297.75" y="633" width="124.25" height="12" fill="#4083c5"/>
<rect x="312.36" y="633" width="109.64" height="12" fill="#37a8e0"/>
<rect x="326.97" y="633" width="95.03" height="12" fill="#35b8eb"/>
<rect x="341.57" y="633" width="80.43" height="12" fill="#31b7ec"/>
<rect x="356.18" y="633" width="65.82" height="12" fill="#3dbcea"/>
<rect x="370.78" y="633" width="51.22" height="12" fill="#2c3188"/>
</g>
<path d="M130.00 412.50V645.95H422.90" fill="none" stroke="#151112" stroke-width="1.5"/>
<path d="M276.30 646.25v-6.5M422.20 646.25v-6.5M129.80 464.92h3M129.80 516.68h3M129.80 568.44h3M129.80 620.20h3M129.80 413.00h3" fill="none" stroke="#151112" stroke-width="1.3"/>
<g>
<rect x="621.00" y="413" width="291.00" height="13" fill="#ee3023"/>
<rect x="657.28" y="413" width="254.72" height="13" fill="#f14e22"/>
<rect x="686.46" y="413" width="225.54" height="13" fill="#f25d22"/>
<rect x="701.05" y="413" width="210.95" height="13" fill="#f04622"/>
<rect x="715.64" y="413" width="196.36" height="13" fill="#ef3f23"/>
<rect x="730.23" y="413" width="181.77" height="13" fill="#f5811f"/>
<rect x="744.82" y="413" width="167.18" height="13" fill="#f36c21"/>
<rect x="803.18" y="413" width="108.82" height="13" fill="#f15522"/>
<rect x="817.77" y="413" width="94.23" height="13" fill="#f25d22"/>
<rect x="832.36" y="413" width="79.64" height="13" fill="#f04622"/>
<rect x="846.95" y="413" width="65.05" height="13" fill="#f15522"/>
<rect x="861.54" y="413" width="50.46" height="13" fill="#ef3f23"/>
<rect x="876.13" y="413" width="35.87" height="13" fill="#e22124"/>
<rect x="890.72" y="413" width="21.28" height="13" fill="#2b2e83"/>
<rect x="621.00" y="426" width="291.00" height="26" fill="#ee3023"/>
<rect x="657.28" y="426" width="254.72" height="26" fill="#f04622"/>
<rect x="671.87" y="426" width="240.13" height="26" fill="#f25d22"/>
<rect x="701.05" y="426" width="210.95" height="26" fill="#f47120"/>
<rect x="730.23" y="426" width="181.77" height="26" fill="#f5811f"/>
<rect x="774.00" y="426" width="138.00" height="26" fill="#f47120"/>
<rect x="817.77" y="426" width="94.23" height="26" fill="#f25d22"/>
<rect x="832.36" y="426" width="79.64" height="26" fill="#ef3823"/>
<rect x="846.95" y="426" width="65.05" height="26" fill="#f36c21"/>
<rect x="861.54" y="426" width="50.46" height="26" fill="#ee3023"/>
<rect x="876.13" y="426" width="35.87" height="26" fill="#d22024"/>
<rect x="890.72" y="426" width="21.28" height="26" fill="#2b2e83"/>
<rect x="621.00" y="452" width="291.00" height="26" fill="#ee3023"/>
<rect x="657.28" y="452" width="254.72" height="26" fill="#ef3f23"/>
<rect x="671.87" y="452" width="240.13" height="26" fill="#f25d22"/>
<rect x="686.46" y="452" width="225.54" height="26" fill="#f04622"/>
<rect x="730.23" y="452" width="181.77" height="26" fill="#f15522"/>
<rect x="744.82" y="452" width="167.18" height="26" fill="#f04622"/>
<rect x="759.41" y="452" width="152.59" height="26" fill="#f25d22"/>
<rect x="774.00" y="452" width="138.00" height="26" fill="#ef3f23"/>
<rect x="788.59" y="452" width="123.41" height="26" fill="#f14e22"/>
<rect x="817.77" y="452" width="94.23" height="26" fill="#ee3023"/>
<rect x="861.54" y="452" width="50.46" height="26" fill="#d22024"/>
<rect x="876.13" y="452" width="35.87" height="26" fill="#801618"/>
<rect x="890.72" y="452" width="21.28" height="26" fill="#2b2e83"/>
<rect x="621.00" y="478" width="291.00" height="26" fill="#ee3023"/>
<rect x="657.28" y="478" width="254.72" height="26" fill="#ef3f23"/>
<rect x="671.87" y="478" width="240.13" height="26" fill="#f14e22"/>
<rect x="686.46" y="478" width="225.54" height="26" fill="#ef3f23"/>
<rect x="701.05" y="478" width="210.95" height="26" fill="#f57c1f"/>
<rect x="715.64" y="478" width="196.36" height="26" fill="#ef3f23"/>
<rect x="730.23" y="478" width="181.77" height="26" fill="#f14e22"/>
<rect x="759.41" y="478" width="152.59" height="26" fill="#ef3f23"/>
<rect x="774.00" y="478" width="138.00" height="26" fill="#ee3023"/>
<rect x="788.59" y="478" width="123.41" height="26" fill="#f04622"/>
<rect x="803.18" y="478" width="108.82" height="26" fill="#ee3023"/>
<rect x="861.54" y="478" width="50.46" height="26" fill="#ad1e22"/>
<rect x="876.13" y="478" width="35.87" height="26" fill="#801618"/>
<rect x="890.72" y="478" width="21.28" height="26" fill="#2b2e83"/>
<rect x="621.00" y="504" width="291.00" height="26" fill="#ee3023"/>
<rect x="657.28" y="504" width="254.72" height="26" fill="#f47120"/>
<rect x="671.87" y="504" width="240.13" height="26" fill="#f25d22"/>
<rect x="715.64" y="504" width="196.36" height="26" fill="#f14e22"/>
<rect x="730.23" y="504" width="181.77" height="26" fill="#f47120"/>
<rect x="744.82" y="504" width="167.18" height="26" fill="#f26521"/>
<rect x="759.41" y="504" width="152.59" height="26" fill="#f47620"/>
<rect x="774.00" y="504" width="138.00" height="26" fill="#f15522"/>
<rect x="788.59" y="504" width="123.41" height="26" fill="#f47620"/>
<rect x="803.18" y="504" width="108.82" height="26" fill="#f15522"/>
<rect x="817.77" y="504" width="94.23" height="26" fill="#f04622"/>
<rect x="832.36" y="504" width="79.64" height="26" fill="#ee3023"/>
<rect x="846.95" y="504" width="65.05" height="26" fill="#ef3823"/>
<rect x="861.54" y="504" width="50.46" height="26" fill="#801618"/>
<rect x="890.72" y="504" width="21.28" height="26" fill="#2b2e83"/>
<rect x="621.00" y="530" width="291.00" height="26" fill="#ee3023"/>
<rect x="657.28" y="530" width="254.72" height="26" fill="#ef3f23"/>
<rect x="686.46" y="530" width="225.54" height="26" fill="#f04622"/>
<rect x="701.05" y="530" width="210.95" height="26" fill="#f36c21"/>
<rect x="715.64" y="530" width="196.36" height="26" fill="#ee3023"/>
<rect x="730.23" y="530" width="181.77" height="26" fill="#f36c21"/>
<rect x="759.41" y="530" width="152.59" height="26" fill="#f14e22"/>
<rect x="774.00" y="530" width="138.00" height="26" fill="#ee3023"/>
<rect x="788.59" y="530" width="123.41" height="26" fill="#f14e22"/>
<rect x="803.18" y="530" width="108.82" height="26" fill="#ee3023"/>
<rect x="832.36" y="530" width="79.64" height="26" fill="#cd2025"/>
<rect x="861.54" y="530" width="50.46" height="26" fill="#801618"/>
<rect x="890.72" y="530" width="21.28" height="26" fill="#2b2e83"/>
<rect x="621.00" y="556" width="291.00" height="26" fill="#ee3023"/>
<rect x="657.28" y="556" width="254.72" height="26" fill="#f36c21"/>
<rect x="671.87" y="556" width="240.13" height="26" fill="#f47620"/>
<rect x="686.46" y="556" width="225.54" height="26" fill="#f25d22"/>
<rect x="701.05" y="556" width="210.95" height="26" fill="#f26521"/>
<rect x="715.64" y="556" width="196.36" height="26" fill="#f47120"/>
<rect x="730.23" y="556" width="181.77" height="26" fill="#f26521"/>
<rect x="744.82" y="556" width="167.18" height="26" fill="#f47620"/>
<rect x="759.41" y="556" width="152.59" height="26" fill="#f15522"/>
<rect x="774.00" y="556" width="138.00" height="26" fill="#f14e22"/>
<rect x="788.59" y="556" width="123.41" height="26" fill="#f7901d"/>
<rect x="803.18" y="556" width="108.82" height="26" fill="#ef3f23"/>
<rect x="817.77" y="556" width="94.23" height="26" fill="#ee3023"/>
<rect x="832.36" y="556" width="79.64" height="26" fill="#d82124"/>
<rect x="846.95" y="556" width="65.05" height="26" fill="#ee3023"/>
<rect x="861.54" y="556" width="50.46" height="26" fill="#801618"/>
<rect x="890.72" y="556" width="21.28" height="26" fill="#2b2e83"/>
<rect x="621.00" y="582" width="291.00" height="26" fill="#ee3023"/>
<rect x="628.10" y="582" width="283.90" height="26" fill="#cd2025"/>
<rect x="642.69" y="582" width="269.31" height="26" fill="#ef3f23"/>
<rect x="657.28" y="582" width="254.72" height="26" fill="#f04622"/>
<rect x="671.87" y="582" width="240.13" height="26" fill="#f36c21"/>
<rect x="686.46" y="582" width="225.54" height="26" fill="#f5811f"/>
<rect x="715.64" y="582" width="196.36" height="26" fill="#f78b1d"/>
<rect x="759.41" y="582" width="152.59" height="26" fill="#f04622"/>
<rect x="788.59" y="582" width="123.41" height="26" fill="#f47620"/>
<rect x="803.18" y="582" width="108.82" height="26" fill="#ef3823"/>
<rect x="817.77" y="582" width="94.23" height="26" fill="#f25d22"/>
<rect x="832.36" y="582" width="79.64" height="26" fill="#d82124"/>
<rect x="861.54" y="582" width="50.46" height="26" fill="#801618"/>
<rect x="890.72" y="582" width="21.28" height="26" fill="#2b2e83"/>
<rect x="621.00" y="608" width="291.00" height="26" fill="#ee3023"/>
<rect x="657.28" y="608" width="254.72" height="26" fill="#f04622"/>
<rect x="686.46" y="608" width="225.54" height="26" fill="#f57c1f"/>
<rect x="701.05" y="608" width="210.95" height="26" fill="#faa819"/>
<rect x="730.23" y="608" width="181.77" height="26" fill="#f9a01b"/>
<rect x="744.82" y="608" width="167.18" height="26" fill="#faa819"/>
<rect x="759.41" y="608" width="152.59" height="26" fill="#f57c1f"/>
<rect x="774.00" y="608" width="138.00" height="26" fill="#f04622"/>
<rect x="788.59" y="608" width="123.41" height="26" fill="#f15522"/>
<rect x="803.18" y="608" width="108.82" height="26" fill="#ef3f23"/>
<rect x="817.77" y="608" width="94.23" height="26" fill="#e22124"/>
<rect x="832.36" y="608" width="79.64" height="26" fill="#9c1b1e"/>
<rect x="861.54" y="608" width="50.46" height="26" fill="#801618"/>
<rect x="890.72" y="608" width="21.28" height="26" fill="#2b2e83"/>
<rect x="621.00" y="634" width="291.00" height="11" fill="#ee3023"/>
<rect x="628.10" y="634" width="283.90" height="11" fill="#ee2824"/>
<rect x="642.69" y="634" width="269.31" height="11" fill="#ee3023"/>
<rect x="657.28" y="634" width="254.72" height="11" fill="#f78b1d"/>
<rect x="671.87" y="634" width="240.13" height="11" fill="#b2d34a"/>
<rect x="686.46" y="634" width="225.54" height="11" fill="#8ac88c"/>
<rect x="701.05" y="634" width="210.95" height="11" fill="#31b7ec"/>
<rect x="715.64" y="634" width="196.36" height="11" fill="#418bca"/>
<rect x="744.82" y="634" width="167.18" height="11" fill="#31b7ec"/>
<rect x="759.41" y="634" width="152.59" height="11" fill="#66c6d2"/>
<rect x="774.00" y="634" width="138.00" height="11" fill="#8ac88c"/>
<rect x="788.59" y="634" width="123.41" height="11" fill="#96cb78"/>
<rect x="803.18" y="634" width="108.82" height="11" fill="#fcd916"/>
<rect x="817.77" y="634" width="94.23" height="11" fill="#ef3823"/>
<rect x="832.36" y="634" width="79.64" height="11" fill="#d22024"/>
<rect x="846.95" y="634" width="65.05" height="11" fill="#cd2025"/>
<rect x="861.54" y="634" width="50.46" height="11" fill="#801618"/>
<rect x="890.72" y="634" width="21.28" height="11" fill="#2b2e83"/>
</g>
<path d="M621.20 412.30V645.95H912.90" fill="none" stroke="#151112" stroke-width="1.5"/>
<path d="M767.00 646.25v-6.5M912.20 646.25v-6.5M621.00 465.19h3M621.00 517.06h3M621.00 568.91h3M621.00 620.77h3M621.00 412.80h3" fill="none" stroke="#151112" stroke-width="1.3"/>
<g>
<rect x="1149.30" y="119" width="292.70" height="13" fill="#000000"/>
<rect x="1157.30" y="119" width="284.70" height="13" fill="#e1e1e1"/>
<rect x="1171.86" y="119" width="270.14" height="13" fill="#c3c3c3"/>
<rect x="1186.42" y="119" width="255.58" height="13" fill="#bebebe"/>
<rect x="1200.98" y="119" width="241.02" height="13" fill="#c3c3c3"/>
<rect x="1215.54" y="119" width="226.46" height="13" fill="#dcdcdc"/>
<rect x="1230.10" y="119" width="211.90" height="13" fill="#c8c8c8"/>
<rect x="1244.66" y="119" width="197.34" height="13" fill="#dcdcdc"/>
<rect x="1259.22" y="119" width="182.78" height="13" fill="#dedede"/>
<rect x="1273.78" y="119" width="168.22" height="13" fill="#dcdcdc"/>
<rect x="1288.34" y="119" width="153.66" height="13" fill="#f5f5f5"/>
<rect x="1302.90" y="119" width="139.10" height="13" fill="#f0f0f0"/>
<rect x="1317.46" y="119" width="124.54" height="13" fill="#e1e1e1"/>
<rect x="1332.02" y="119" width="109.98" height="13" fill="#f0f0f0"/>
<rect x="1346.58" y="119" width="95.42" height="13" fill="#ed2024"/>
<rect x="1361.14" y="119" width="80.86" height="13" fill="#f2f2f2"/>
<rect x="1375.70" y="119" width="66.30" height="13" fill="#ed2024"/>
<rect x="1149.30" y="132" width="292.70" height="26" fill="#000000"/>
<rect x="1157.30" y="132" width="284.70" height="26" fill="#f0f0f0"/>
<rect x="1171.86" y="132" width="270.14" height="26" fill="#dcdcdc"/>
<rect x="1186.42" y="132" width="255.58" height="26" fill="#b9b9b9"/>
<rect x="1200.98" y="132" width="241.02" height="26" fill="#ebebeb"/>
<rect x="1215.54" y="132" width="226.46" height="26" fill="#a5a5a5"/>
<rect x="1230.10" y="132" width="211.90" height="26" fill="#e1e1e1"/>
<rect x="1244.66" y="132" width="197.34" height="26" fill="#c8c8c8"/>
<rect x="1273.78" y="132" width="168.22" height="26" fill="#c3c3c3"/>
<rect x="1288.34" y="132" width="153.66" height="26" fill="#eeeeee"/>
<rect x="1302.90" y="132" width="139.10" height="26" fill="#cdcdcd"/>
<rect x="1317.46" y="132" width="124.54" height="26" fill="#ed2024"/>
<rect x="1332.02" y="132" width="109.98" height="26" fill="#dedede"/>
<rect x="1346.58" y="132" width="95.42" height="26" fill="#ed2024"/>
<rect x="1361.14" y="132" width="80.86" height="26" fill="#f2f2f2"/>
<rect x="1375.70" y="132" width="66.30" height="26" fill="#ebebeb"/>
<rect x="1390.26" y="132" width="51.74" height="26" fill="#f0f0f0"/>
<rect x="1404.82" y="132" width="37.18" height="26" fill="#ed2024"/>
<rect x="1149.30" y="158" width="292.70" height="26" fill="#000000"/>
<rect x="1157.30" y="158" width="284.70" height="26" fill="#dedede"/>
<rect x="1171.86" y="158" width="270.14" height="26" fill="#eeeeee"/>
<rect x="1186.42" y="158" width="255.58" height="26" fill="#c8c8c8"/>
<rect x="1200.98" y="158" width="241.02" height="26" fill="#ebebeb"/>
<rect x="1215.54" y="158" width="226.46" height="26" fill="#e1e1e1"/>
<rect x="1230.10" y="158" width="211.90" height="26" fill="#dcdcdc"/>
<rect x="1244.66" y="158" width="197.34" height="26" fill="#f8f8f8"/>
<rect x="1259.22" y="158" width="182.78" height="26" fill="#dedede"/>
<rect x="1273.78" y="158" width="168.22" height="26" fill="#eeeeee"/>
<rect x="1288.34" y="158" width="153.66" height="26" fill="#f2f2f2"/>
<rect x="1302.90" y="158" width="139.10" height="26" fill="#f0f0f0"/>
<rect x="1317.46" y="158" width="124.54" height="26" fill="#f5f5f5"/>
<rect x="1332.02" y="158" width="109.98" height="26" fill="#ed2024"/>
<rect x="1346.58" y="158" width="95.42" height="26" fill="#fafafa"/>
<rect x="1361.14" y="158" width="80.86" height="26" fill="#ed2024"/>
<rect x="1149.30" y="184" width="292.70" height="25" fill="#000000"/>
<rect x="1157.30" y="184" width="284.70" height="25" fill="#a0a0a0"/>
<rect x="1171.86" y="184" width="270.14" height="25" fill="#b9b9b9"/>
<rect x="1186.42" y="184" width="255.58" height="25" fill="#c8c8c8"/>
<rect x="1200.98" y="184" width="241.02" height="25" fill="#b4b4b4"/>
<rect x="1215.54" y="184" width="226.46" height="25" fill="#a5a5a5"/>
<rect x="1230.10" y="184" width="211.90" height="25" fill="#e1e1e1"/>
<rect x="1244.66" y="184" width="197.34" height="25" fill="#bebebe"/>
<rect x="1273.78" y="184" width="168.22" height="25" fill="#d7d7d7"/>
<rect x="1288.34" y="184" width="153.66" height="25" fill="#d4d4d4"/>
<rect x="1302.90" y="184" width="139.10" height="25" fill="#d7d7d7"/>
<rect x="1317.46" y="184" width="124.54" height="25" fill="#c8c8c8"/>
<rect x="1332.02" y="184" width="109.98" height="25" fill="#dcdcdc"/>
<rect x="1346.58" y="184" width="95.42" height="25" fill="#eeeeee"/>
<rect x="1361.14" y="184" width="80.86" height="25" fill="#f5f5f5"/>
<rect x="1375.70" y="184" width="66.30" height="25" fill="#ed2024"/>
<rect x="1390.26" y="184" width="51.74" height="25" fill="#f0f0f0"/>
<rect x="1419.38" y="184" width="22.62" height="25" fill="#ed2024"/>
<rect x="1433.94" y="184" width="8.06" height="25" fill="#f0f0f0"/>
<rect x="1149.30" y="209" width="292.70" height="26" fill="#000000"/>
<rect x="1157.30" y="209" width="284.70" height="26" fill="#dcdcdc"/>
<rect x="1171.86" y="209" width="270.14" height="26" fill="#8c8c8c"/>
<rect x="1186.42" y="209" width="255.58" height="26" fill="#aaaaaa"/>
<rect x="1200.98" y="209" width="241.02" height="26" fill="#e1e1e1"/>
<rect x="1215.54" y="209" width="226.46" height="26" fill="#d7d7d7"/>
<rect x="1230.10" y="209" width="211.90" height="26" fill="#dedede"/>
<rect x="1244.66" y="209" width="197.34" height="26" fill="#aaaaaa"/>
<rect x="1259.22" y="209" width="182.78" height="26" fill="#eeeeee"/>
<rect x="1288.34" y="209" width="153.66" height="26" fill="#f5f5f5"/>
<rect x="1302.90" y="209" width="139.10" height="26" fill="#f0f0f0"/>
<rect x="1332.02" y="209" width="109.98" height="26" fill="#ed2024"/>
<rect x="1433.94" y="209" width="8.06" height="26" fill="#f0f0f0"/>
<rect x="1149.30" y="235" width="292.70" height="26" fill="#000000"/>
<rect x="1157.30" y="235" width="284.70" height="26" fill="#cdcdcd"/>
<rect x="1186.42" y="235" width="255.58" height="26" fill="#b9b9b9"/>
<rect x="1200.98" y="235" width="241.02" height="26" fill="#ebebeb"/>
<rect x="1215.54" y="235" width="226.46" height="26" fill="#cdcdcd"/>
<rect x="1230.10" y="235" width="211.90" height="26" fill="#f2f2f2"/>
<rect x="1259.22" y="235" width="182.78" height="26" fill="#ed2024"/>
<rect x="1433.94" y="235" width="8.06" height="26" fill="#ebebeb"/>
<rect x="1149.30" y="261" width="292.70" height="26" fill="#000000"/>
<rect x="1157.30" y="261" width="284.70" height="26" fill="#e6e6e6"/>
<rect x="1171.86" y="261" width="270.14" height="26" fill="#a5a5a5"/>
<rect x="1186.42" y="261" width="255.58" height="26" fill="#aaaaaa"/>
<rect x="1200.98" y="261" width="241.02" height="26" fill="#c3c3c3"/>
<rect x="1215.54" y="261" width="226.46" height="26" fill="#c0c0c0"/>
<rect x="1230.10" y="261" width="211.90" height="26" fill="#c3c3c3"/>
<rect x="1244.66" y="261" width="197.34" height="26" fill="#e1e1e1"/>
<rect x="1273.78" y="261" width="168.22" height="26" fill="#f5f5f5"/>
<rect x="1288.34" y="261" width="153.66" height="26" fill="#ebebeb"/>
<rect x="1302.90" y="261" width="139.10" height="26" fill="#f0f0f0"/>
<rect x="1317.46" y="261" width="124.54" height="26" fill="#ed2024"/>
<rect x="1433.94" y="261" width="8.06" height="26" fill="#ebebeb"/>
<rect x="1149.30" y="287" width="292.70" height="26" fill="#000000"/>
<rect x="1157.30" y="287" width="284.70" height="26" fill="#e1e1e1"/>
<rect x="1171.86" y="287" width="270.14" height="26" fill="#aaaaaa"/>
<rect x="1186.42" y="287" width="255.58" height="26" fill="#afafaf"/>
<rect x="1200.98" y="287" width="241.02" height="26" fill="#969696"/>
<rect x="1215.54" y="287" width="226.46" height="26" fill="#9b9b9b"/>
<rect x="1244.66" y="287" width="197.34" height="26" fill="#dcdcdc"/>
<rect x="1259.22" y="287" width="182.78" height="26" fill="#c8c8c8"/>
<rect x="1273.78" y="287" width="168.22" height="26" fill="#b9b9b9"/>
<rect x="1288.34" y="287" width="153.66" height="26" fill="#f0f0f0"/>
<rect x="1302.90" y="287" width="139.10" height="26" fill="#f5f5f5"/>
<rect x="1317.46" y="287" width="124.54" height="26" fill="#ed2024"/>
<rect x="1332.02" y="287" width="109.98" height="26" fill="#e8e8e8"/>
<rect x="1346.58" y="287" width="95.42" height="26" fill="#ed2024"/>
<rect x="1433.94" y="287" width="8.06" height="26" fill="#e6e6e6"/>
<rect x="1149.30" y="313" width="292.70" height="25" fill="#000000"/>
<rect x="1157.30" y="313" width="284.70" height="25" fill="#a5a5a5"/>
<rect x="1171.86" y="313" width="270.14" height="25" fill="#4b4b4b"/>
<rect x="1186.42" y="313" width="255.58" height="25" fill="#282828"/>
<rect x="1200.98" y="313" width="241.02" height="25" fill="#2d2d2d"/>
<rect x="1215.54" y="313" width="226.46" height="25" fill="#6e6e6e"/>
<rect x="1230.10" y="313" width="211.90" height="25" fill="#696969"/>
<rect x="1259.22" y="313" width="182.78" height="25" fill="#bebebe"/>
<rect x="1273.78" y="313" width="168.22" height="25" fill="#8c8c8c"/>
<rect x="1288.34" y="313" width="153.66" height="25" fill="#bebebe"/>
<rect x="1302.90" y="313" width="139.10" height="25" fill="#b9b9b9"/>
<rect x="1317.46" y="313" width="124.54" height="25" fill="#d7d7d7"/>
<rect x="1332.02" y="313" width="109.98" height="25" fill="#e6e6e6"/>
<rect x="1346.58" y="313" width="95.42" height="25" fill="#e8e8e8"/>
<rect x="1361.14" y="313" width="80.86" height="25" fill="#f5f5f5"/>
<rect x="1375.70" y="313" width="66.30" height="25" fill="#ed2024"/>
<rect x="1149.30" y="338" width="292.70" height="13" fill="#000000"/>
<rect x="1157.30" y="338" width="284.70" height="13" fill="#ed2024"/>
<rect x="1171.86" y="338" width="270.14" height="13" fill="#ebebeb"/>
<rect x="1186.42" y="338" width="255.58" height="13" fill="#e1e1e1"/>
<rect x="1200.98" y="338" width="241.02" height="13" fill="#8c8c8c"/>
<rect x="1215.54" y="338" width="226.46" height="13" fill="#afafaf"/>
<rect x="1230.10" y="338" width="211.90" height="13" fill="#b4b4b4"/>
<rect x="1244.66" y="338" width="197.34" height="13" fill="#969696"/>
<rect x="1259.22" y="338" width="182.78" height="13" fill="#6e6e6e"/>
<rect x="1273.78" y="338" width="168.22" height="13" fill="#787878"/>
<rect x="1288.34" y="338" width="153.66" height="13" fill="#afafaf"/>
<rect x="1302.90" y="338" width="139.10" height="13" fill="#8c8c8c"/>
<rect x="1317.46" y="338" width="124.54" height="13" fill="#a5a5a5"/>
<rect x="1332.02" y="338" width="109.98" height="13" fill="#b9b9b9"/>
<rect x="1346.58" y="338" width="95.42" height="13" fill="#c3c3c3"/>
<rect x="1361.14" y="338" width="80.86" height="13" fill="#f5f5f5"/>
<rect x="1375.70" y="338" width="66.30" height="13" fill="#ed2024"/>
</g>
<path d="M1149.50 118.80V351.65H1442.30" fill="none" stroke="#151112" stroke-width="1.5"/>
<path d="M1294.80 351.95v-6.5M1441.60 351.95v-6.5M1149.30 170.84h3M1149.30 222.36h3M1149.30 273.88h3M1149.30 325.40h3M1149.30 119.30h3" fill="none" stroke="#151112" stroke-width="1.3"/>
<g>
<rect x="1640.30" y="122" width="291.70" height="12" fill="#232323"/>
<rect x="1647.70" y="122" width="284.30" height="12" fill="#ed2024"/>
<rect x="1895.39" y="122" width="36.61" height="12" fill="#e8e8e8"/>
<rect x="1909.96" y="122" width="22.04" height="12" fill="#ed2024"/>
<rect x="1640.30" y="134" width="291.70" height="26" fill="#232323"/>
<rect x="1647.70" y="134" width="284.30" height="26" fill="#ed2024"/>
<rect x="1895.39" y="134" width="36.61" height="26" fill="#e8e8e8"/>
<rect x="1909.96" y="134" width="22.04" height="26" fill="#ed2024"/>
<rect x="1640.30" y="160" width="291.70" height="25" fill="#232323"/>
<rect x="1647.70" y="160" width="284.30" height="25" fill="#ed2024"/>
<rect x="1880.82" y="160" width="51.18" height="25" fill="#f5f5f5"/>
<rect x="1895.39" y="160" width="36.61" height="25" fill="#dcdcdc"/>
<rect x="1909.96" y="160" width="22.04" height="25" fill="#ed2024"/>
<rect x="1640.30" y="185" width="291.70" height="26" fill="#232323"/>
<rect x="1647.70" y="185" width="284.30" height="26" fill="#ed2024"/>
<rect x="1851.68" y="185" width="80.32" height="26" fill="#ebebeb"/>
<rect x="1866.25" y="185" width="65.75" height="26" fill="#ed2024"/>
<rect x="1880.82" y="185" width="51.18" height="26" fill="#c3c3c3"/>
<rect x="1895.39" y="185" width="36.61" height="26" fill="#969696"/>
<rect x="1909.96" y="185" width="22.04" height="26" fill="#ed2024"/>
<rect x="1640.30" y="211" width="291.70" height="25" fill="#232323"/>
<rect x="1647.70" y="211" width="284.30" height="25" fill="#ed2024"/>
<rect x="1851.68" y="211" width="80.32" height="25" fill="#ebebeb"/>
<rect x="1880.82" y="211" width="51.18" height="25" fill="#afafaf"/>
<rect x="1895.39" y="211" width="36.61" height="25" fill="#b9b9b9"/>
<rect x="1909.96" y="211" width="22.04" height="25" fill="#ed2024"/>
<rect x="1640.30" y="236" width="291.70" height="26" fill="#232323"/>
<rect x="1647.70" y="236" width="284.30" height="26" fill="#ed2024"/>
<rect x="1837.11" y="236" width="94.89" height="26" fill="#f5f5f5"/>
<rect x="1851.68" y="236" width="80.32" height="26" fill="#ebebeb"/>
<rect x="1880.82" y="236" width="51.18" height="26" fill="#d7d7d7"/>
<rect x="1895.39" y="236" width="36.61" height="26" fill="#9b9b9b"/>
<rect x="1909.96" y="236" width="22.04" height="26" fill="#ed2024"/>
<rect x="1640.30" y="262" width="291.70" height="25" fill="#232323"/>
<rect x="1647.70" y="262" width="284.30" height="25" fill="#ed2024"/>
<rect x="1662.27" y="262" width="269.73" height="25" fill="#f0f0f0"/>
<rect x="1676.84" y="262" width="255.16" height="25" fill="#ed2024"/>
<rect x="1851.68" y="262" width="80.32" height="25" fill="#ebebeb"/>
<rect x="1866.25" y="262" width="65.75" height="25" fill="#ed2024"/>
<rect x="1880.82" y="262" width="51.18" height="25" fill="#d2d2d2"/>
<rect x="1895.39" y="262" width="36.61" height="25" fill="#d7d7d7"/>
<rect x="1909.96" y="262" width="22.04" height="25" fill="#ed2024"/>
<rect x="1640.30" y="287" width="291.70" height="26" fill="#232323"/>
<rect x="1647.70" y="287" width="284.30" height="26" fill="#ed2024"/>
<rect x="1837.11" y="287" width="94.89" height="26" fill="#f0f0f0"/>
<rect x="1851.68" y="287" width="80.32" height="26" fill="#e8e8e8"/>
<rect x="1866.25" y="287" width="65.75" height="26" fill="#f5f5f5"/>
<rect x="1880.82" y="287" width="51.18" height="26" fill="#e8e8e8"/>
<rect x="1895.39" y="287" width="36.61" height="26" fill="#ebebeb"/>
<rect x="1909.96" y="287" width="22.04" height="26" fill="#ed2024"/>
<rect x="1640.30" y="313" width="291.70" height="25" fill="#232323"/>
<rect x="1647.70" y="313" width="284.30" height="25" fill="#ed2024"/>
<rect x="1851.68" y="313" width="80.32" height="25" fill="#f0f0f0"/>
<rect x="1866.25" y="313" width="65.75" height="25" fill="#f5f5f5"/>
<rect x="1880.82" y="313" width="51.18" height="25" fill="#ebebeb"/>
<rect x="1895.39" y="313" width="36.61" height="25" fill="#ed2024"/>
<rect x="1640.30" y="338" width="291.70" height="14" fill="#232323"/>
<rect x="1647.70" y="338" width="284.30" height="14" fill="#ed2024"/>
</g>
<path d="M1640.50 121.40V352.25H1932.60" fill="none" stroke="#151112" stroke-width="1.5"/>
<path d="M1783.80 352.55v-6.5M1931.90 352.55v-6.5M1640.30 172.74h3M1640.30 223.71h3M1640.30 274.69h3M1640.30 325.67h3M1640.30 121.90h3" fill="none" stroke="#151112" stroke-width="1.3"/>
<g>
<rect x="1149.60" y="414" width="292.40" height="13" fill="#ed2024"/>
<rect x="1172.06" y="414" width="269.94" height="13" fill="#e8e8e8"/>
<rect x="1186.62" y="414" width="255.38" height="13" fill="#c3c3c3"/>
<rect x="1201.18" y="414" width="240.82" height="13" fill="#cdcdcd"/>
<rect x="1215.74" y="414" width="226.26" height="13" fill="#a5a5a5"/>
<rect x="1230.30" y="414" width="211.70" height="13" fill="#d7d7d7"/>
<rect x="1244.86" y="414" width="197.14" height="13" fill="#b9b9b9"/>
<rect x="1259.42" y="414" width="182.58" height="13" fill="#bebebe"/>
<rect x="1273.98" y="414" width="168.02" height="13" fill="#969696"/>
<rect x="1288.54" y="414" width="153.46" height="13" fill="#9b9b9b"/>
<rect x="1303.10" y="414" width="138.90" height="13" fill="#969696"/>
<rect x="1317.66" y="414" width="124.34" height="13" fill="#5a5a5a"/>
<rect x="1346.78" y="414" width="95.22" height="13" fill="#6e6e6e"/>
<rect x="1361.34" y="414" width="80.66" height="13" fill="#323232"/>
<rect x="1375.90" y="414" width="66.10" height="13" fill="#555555"/>
<rect x="1390.46" y="414" width="51.54" height="13" fill="#737373"/>
<rect x="1405.02" y="414" width="36.98" height="13" fill="#555555"/>
<rect x="1419.58" y="414" width="22.42" height="13" fill="#b4b4b4"/>
<rect x="1434.14" y="414" width="7.86" height="13" fill="#000000"/>
<rect x="1149.60" y="427" width="292.40" height="25" fill="#ed2024"/>
<rect x="1186.62" y="427" width="255.38" height="25" fill="#e6e6e6"/>
<rect x="1201.18" y="427" width="240.82" height="25" fill="#eeeeee"/>
<rect x="1215.74" y="427" width="226.26" height="25" fill="#a5a5a5"/>
<rect x="1230.30" y="427" width="211.70" height="25" fill="#c8c8c8"/>
<rect x="1244.86" y="427" width="197.14" height="25" fill="#8c8c8c"/>
<rect x="1273.98" y="427" width="168.02" height="25" fill="#646464"/>
<rect x="1288.54" y="427" width="153.46" height="25" fill="#878787"/>
<rect x="1303.10" y="427" width="138.90" height="25" fill="#414141"/>
<rect x="1317.66" y="427" width="124.34" height="25" fill="#7d7d7d"/>
<rect x="1332.22" y="427" width="109.78" height="25" fill="#4b4b4b"/>
<rect x="1361.34" y="427" width="80.66" height="25" fill="#282828"/>
<rect x="1375.90" y="427" width="66.10" height="25" fill="#323232"/>
<rect x="1390.46" y="427" width="51.54" height="25" fill="#282828"/>
<rect x="1405.02" y="427" width="36.98" height="25" fill="#5a5a5a"/>
<rect x="1419.58" y="427" width="22.42" height="25" fill="#878787"/>
<rect x="1434.14" y="427" width="7.86" height="25" fill="#000000"/>
<rect x="1149.60" y="452" width="292.40" height="26" fill="#ed2024"/>
<rect x="1172.06" y="452" width="269.94" height="26" fill="#e6e6e6"/>
<rect x="1186.62" y="452" width="255.38" height="26" fill="#e1e1e1"/>
<rect x="1201.18" y="452" width="240.82" height="26" fill="#c8c8c8"/>
<rect x="1215.74" y="452" width="226.26" height="26" fill="#bebebe"/>
<rect x="1230.30" y="452" width="211.70" height="26" fill="#8c8c8c"/>
<rect x="1244.86" y="452" width="197.14" height="26" fill="#969696"/>
<rect x="1259.42" y="452" width="182.58" height="26" fill="#555555"/>
<rect x="1303.10" y="452" width="138.90" height="26" fill="#282828"/>
<rect x="1317.66" y="452" width="124.34" height="26" fill="#1c1c1c"/>
<rect x="1346.78" y="452" width="95.22" height="26" fill="#303030"/>
<rect x="1361.34" y="452" width="80.66" height="26" fill="#373737"/>
<rect x="1375.90" y="452" width="66.10" height="26" fill="#1c1c1c"/>
<rect x="1390.46" y="452" width="51.54" height="26" fill="#2d2d2d"/>
<rect x="1405.02" y="452" width="36.98" height="26" fill="#414141"/>
<rect x="1419.58" y="452" width="22.42" height="26" fill="#787878"/>
<rect x="1434.14" y="452" width="7.86" height="26" fill="#000000"/>
<rect x="1149.60" y="478" width="292.40" height="26" fill="#ed2024"/>
<rect x="1172.06" y="478" width="269.94" height="26" fill="#e6e6e6"/>
<rect x="1186.62" y="478" width="255.38" height="26" fill="#cdcdcd"/>
<rect x="1201.18" y="478" width="240.82" height="26" fill="#a0a0a0"/>
<rect x="1215.74" y="478" width="226.26" height="26" fill="#8c8c8c"/>
<rect x="1230.30" y="478" width="211.70" height="26" fill="#a5a5a5"/>
<rect x="1244.86" y="478" width="197.14" height="26" fill="#8c8c8c"/>
<rect x="1259.42" y="478" width="182.58" height="26" fill="#5a5a5a"/>
<rect x="1273.98" y="478" width="168.02" height="26" fill="#232323"/>
<rect x="1288.54" y="478" width="153.46" height="26" fill="#505050"/>
<rect x="1303.10" y="478" width="138.90" height="26" fill="#464646"/>
<rect x="1317.66" y="478" width="124.34" height="26" fill="#000000"/>
<rect x="1361.34" y="478" width="80.66" height="26" fill="#0a0a0a"/>
<rect x="1375.90" y="478" width="66.10" height="26" fill="#1c1c1c"/>
<rect x="1390.46" y="478" width="51.54" height="26" fill="#1e1e1e"/>
<rect x="1405.02" y="478" width="36.98" height="26" fill="#000000"/>
<rect x="1419.58" y="478" width="22.42" height="26" fill="#464646"/>
<rect x="1434.14" y="478" width="7.86" height="26" fill="#000000"/>
<rect x="1149.60" y="504" width="292.40" height="25" fill="#ed2024"/>
<rect x="1172.06" y="504" width="269.94" height="25" fill="#e8e8e8"/>
<rect x="1186.62" y="504" width="255.38" height="25" fill="#e4e4e4"/>
<rect x="1201.18" y="504" width="240.82" height="25" fill="#d2d2d2"/>
<rect x="1215.74" y="504" width="226.26" height="25" fill="#bebebe"/>
<rect x="1230.30" y="504" width="211.70" height="25" fill="#aaaaaa"/>
<rect x="1244.86" y="504" width="197.14" height="25" fill="#878787"/>
<rect x="1259.42" y="504" width="182.58" height="25" fill="#7d7d7d"/>
<rect x="1273.98" y="504" width="168.02" height="25" fill="#8c8c8c"/>
<rect x="1288.54" y="504" width="153.46" height="25" fill="#1e1e1e"/>
<rect x="1317.66" y="504" width="124.34" height="25" fill="#232323"/>
<rect x="1332.22" y="504" width="109.78" height="25" fill="#000000"/>
<rect x="1346.78" y="504" width="95.22" height="25" fill="#0a0a0a"/>
<rect x="1361.34" y="504" width="80.66" height="25" fill="#0c0c0c"/>
<rect x="1375.90" y="504" width="66.10" height="25" fill="#0a0a0a"/>
<rect x="1390.46" y="504" width="51.54" height="25" fill="#000000"/>
<rect x="1419.58" y="504" width="22.42" height="25" fill="#464646"/>
<rect x="1434.14" y="504" width="7.86" height="25" fill="#000000"/>
<rect x="1149.60" y="529" width="292.40" height="26" fill="#ed2024"/>
<rect x="1172.06" y="529" width="269.94" height="26" fill="#e8e8e8"/>
<rect x="1186.62" y="529" width="255.38" height="26" fill="#c8c8c8"/>
<rect x="1201.18" y="529" width="240.82" height="26" fill="#cdcdcd"/>
<rect x="1215.74" y="529" width="226.26" height="26" fill="#969696"/>
<rect x="1230.30" y="529" width="211.70" height="26" fill="#9b9b9b"/>
<rect x="1244.86" y="529" width="197.14" height="26" fill="#828282"/>
<rect x="1259.42" y="529" width="182.58" height="26" fill="#6e6e6e"/>
<rect x="1273.98" y="529" width="168.02" height="26" fill="#5f5f5f"/>
<rect x="1288.54" y="529" width="153.46" height="26" fill="#373737"/>
<rect x="1303.10" y="529" width="138.90" height="26" fill="#323232"/>
<rect x="1332.22" y="529" width="109.78" height="26" fill="#000000"/>
<rect x="1375.90" y="529" width="66.10" height="26" fill="#050505"/>
<rect x="1390.46" y="529" width="51.54" height="26" fill="#000000"/>
<rect x="1405.02" y="529" width="36.98" height="26" fill="#2d2d2d"/>
<rect x="1419.58" y="529" width="22.42" height="26" fill="#0a0a0a"/>
<rect x="1434.14" y="529" width="7.86" height="26" fill="#000000"/>
<rect x="1149.60" y="555" width="292.40" height="25" fill="#ed2024"/>
<rect x="1172.06" y="555" width="269.94" height="25" fill="#e6e6e6"/>
<rect x="1186.62" y="555" width="255.38" height="25" fill="#e8e8e8"/>
<rect x="1201.18" y="555" width="240.82" height="25" fill="#d7d7d7"/>
<rect x="1215.74" y="555" width="226.26" height="25" fill="#c3c3c3"/>
<rect x="1230.30" y="555" width="211.70" height="25" fill="#6e6e6e"/>
<rect x="1244.86" y="555" width="197.14" height="25" fill="#7d7d7d"/>
<rect x="1259.42" y="555" width="182.58" height="25" fill="#5f5f5f"/>
<rect x="1273.98" y="555" width="168.02" height="25" fill="#919191"/>
<rect x="1288.54" y="555" width="153.46" height="25" fill="#282828"/>
<rect x="1303.10" y="555" width="138.90" height="25" fill="#000000"/>
<rect x="1317.66" y="555" width="124.34" height="25" fill="#464646"/>
<rect x="1332.22" y="555" width="109.78" height="25" fill="#080808"/>
<rect x="1346.78" y="555" width="95.22" height="25" fill="#141414"/>
<rect x="1361.34" y="555" width="80.66" height="25" fill="#0c0c0c"/>
<rect x="1375.90" y="555" width="66.10" height="25" fill="#323232"/>
<rect x="1390.46" y="555" width="51.54" height="25" fill="#555555"/>
<rect x="1405.02" y="555" width="36.98" height="25" fill="#2d2d2d"/>
<rect x="1419.58" y="555" width="22.42" height="25" fill="#373737"/>
<rect x="1434.14" y="555" width="7.86" height="25" fill="#000000"/>
<rect x="1149.60" y="580" width="292.40" height="26" fill="#ed2024"/>
<rect x="1172.06" y="580" width="269.94" height="26" fill="#e6e6e6"/>
<rect x="1186.62" y="580" width="255.38" height="26" fill="#c3c3c3"/>
<rect x="1201.18" y="580" width="240.82" height="26" fill="#b4b4b4"/>
<rect x="1215.74" y="580" width="226.26" height="26" fill="#969696"/>
<rect x="1230.30" y="580" width="211.70" height="26" fill="#7d7d7d"/>
<rect x="1244.86" y="580" width="197.14" height="26" fill="#828282"/>
<rect x="1273.98" y="580" width="168.02" height="26" fill="#464646"/>
<rect x="1288.54" y="580" width="153.46" height="26" fill="#8c8c8c"/>
<rect x="1303.10" y="580" width="138.90" height="26" fill="#5f5f5f"/>
<rect x="1317.66" y="580" width="124.34" height="26" fill="#6e6e6e"/>
<rect x="1332.22" y="580" width="109.78" height="26" fill="#000000"/>
<rect x="1346.78" y="580" width="95.22" height="26" fill="#323232"/>
<rect x="1361.34" y="580" width="80.66" height="26" fill="#232323"/>
<rect x="1375.90" y="580" width="66.10" height="26" fill="#050505"/>
<rect x="1390.46" y="580" width="51.54" height="26" fill="#000000"/>
<rect x="1419.58" y="580" width="22.42" height="26" fill="#232323"/>
<rect x="1434.14" y="580" width="7.86" height="26" fill="#000000"/>
<rect x="1149.60" y="606" width="292.40" height="26" fill="#ed2024"/>
<rect x="1172.06" y="606" width="269.94" height="26" fill="#cdcdcd"/>
<rect x="1186.62" y="606" width="255.38" height="26" fill="#c3c3c3"/>
<rect x="1201.18" y="606" width="240.82" height="26" fill="#a5a5a5"/>
<rect x="1215.74" y="606" width="226.26" height="26" fill="#878787"/>
<rect x="1230.30" y="606" width="211.70" height="26" fill="#aaaaaa"/>
<rect x="1244.86" y="606" width="197.14" height="26" fill="#787878"/>
<rect x="1259.42" y="606" width="182.58" height="26" fill="#878787"/>
<rect x="1273.98" y="606" width="168.02" height="26" fill="#7d7d7d"/>
<rect x="1288.54" y="606" width="153.46" height="26" fill="#828282"/>
<rect x="1303.10" y="606" width="138.90" height="26" fill="#464646"/>
<rect x="1317.66" y="606" width="124.34" height="26" fill="#414141"/>
<rect x="1332.22" y="606" width="109.78" height="26" fill="#505050"/>
<rect x="1346.78" y="606" width="95.22" height="26" fill="#232323"/>
<rect x="1361.34" y="606" width="80.66" height="26" fill="#505050"/>
<rect x="1390.46" y="606" width="51.54" height="26" fill="#464646"/>
<rect x="1405.02" y="606" width="36.98" height="26" fill="#787878"/>
<rect x="1419.58" y="606" width="22.42" height="26" fill="#3c3c3c"/>
<rect x="1434.14" y="606" width="7.86" height="26" fill="#000000"/>
<rect x="1149.60" y="632" width="292.40" height="13" fill="#ed2024"/>
<rect x="1172.06" y="632" width="269.94" height="13" fill="#f5f5f5"/>
<rect x="1186.62" y="632" width="255.38" height="13" fill="#e4e4e4"/>
<rect x="1201.18" y="632" width="240.82" height="13" fill="#dadada"/>
<rect x="1215.74" y="632" width="226.26" height="13" fill="#e1e1e1"/>
<rect x="1230.30" y="632" width="211.70" height="13" fill="#afafaf"/>
<rect x="1244.86" y="632" width="197.14" height="13" fill="#d7d7d7"/>
<rect x="1259.42" y="632" width="182.58" height="13" fill="#bebebe"/>
<rect x="1288.54" y="632" width="153.46" height="13" fill="#a0a0a0"/>
<rect x="1317.66" y="632" width="124.34" height="13" fill="#8c8c8c"/>
<rect x="1332.22" y="632" width="109.78" height="13" fill="#afafaf"/>
<rect x="1346.78" y="632" width="95.22" height="13" fill="#b9b9b9"/>
<rect x="1361.34" y="632" width="80.66" height="13" fill="#b4b4b4"/>
<rect x="1375.90" y="632" width="66.10" height="13" fill="#e8e8e8"/>
<rect x="1390.46" y="632" width="51.54" height="13" fill="#7d7d7d"/>
<rect x="1405.02" y="632" width="36.98" height="13" fill="#969696"/>
<rect x="1419.58" y="632" width="22.42" height="13" fill="#9b9b9b"/>
<rect x="1434.14" y="632" width="7.86" height="13" fill="#000000"/>
</g>
<path d="M1149.80 413.70V645.95H1442.30" fill="none" stroke="#151112" stroke-width="1.5"/>
<path d="M1296.20 646.25v-6.5M1441.60 646.25v-6.5M1149.60 465.13h3M1149.60 516.37h3M1149.60 567.61h3M1149.60 618.85h3M1149.60 414.20h3" fill="none" stroke="#151112" stroke-width="1.3"/>
<g>
<rect x="1640.30" y="413" width="290.70" height="12" fill="#ed2024"/>
<rect x="1922.83" y="413" width="8.17" height="12" fill="#232323"/>
<rect x="1640.30" y="425" width="290.70" height="26" fill="#ed2024"/>
<rect x="1922.83" y="425" width="8.17" height="26" fill="#232323"/>
<rect x="1640.30" y="451" width="290.70" height="26" fill="#ed2024"/>
<rect x="1922.83" y="451" width="8.17" height="26" fill="#232323"/>
<rect x="1640.30" y="477" width="290.70" height="25" fill="#ed2024"/>
<rect x="1922.83" y="477" width="8.17" height="25" fill="#232323"/>
<rect x="1640.30" y="502" width="290.70" height="26" fill="#ed2024"/>
<rect x="1922.83" y="502" width="8.17" height="26" fill="#232323"/>
<rect x="1640.30" y="528" width="290.70" height="25" fill="#ed2024"/>
<rect x="1922.83" y="528" width="8.17" height="25" fill="#232323"/>
<rect x="1640.30" y="553" width="290.70" height="26" fill="#ed2024"/>
<rect x="1662.37" y="553" width="268.63" height="26" fill="#f5f5f5"/>
<rect x="1676.84" y="553" width="254.16" height="26" fill="#ed2024"/>
<rect x="1922.83" y="553" width="8.17" height="26" fill="#232323"/>
<rect x="1640.30" y="579" width="290.70" height="26" fill="#ed2024"/>
<rect x="1922.83" y="579" width="8.17" height="26" fill="#232323"/>
<rect x="1640.30" y="605" width="290.70" height="25" fill="#ed2024"/>
<rect x="1922.83" y="605" width="8.17" height="25" fill="#232323"/>
<rect x="1640.30" y="630" width="290.70" height="14" fill="#ed2024"/>
<rect x="1922.83" y="630" width="8.17" height="14" fill="#232323"/>
</g>
<path d="M1640.50 412.20V644.45H1931.90" fill="none" stroke="#151112" stroke-width="1.5"/>
<path d="M1783.50 644.75v-6.5M1931.20 644.75v-6.5M1640.30 463.73h3M1640.30 514.97h3M1640.30 566.21h3M1640.30 617.45h3M1640.30 412.70h3" fill="none" stroke="#151112" stroke-width="1.3"/>
<rect x="439.15" y="125.05" width="23.50" height="226.20" fill="url(#gj)" stroke="#231f20" stroke-width="1.5"/>
<path d="M439.40 189.80h3.5M462.40 189.80h-3.5M439.40 254.30h3.5M462.40 254.30h-3.5M439.40 319.00h3.5M462.40 319.00h-3.5" fill="none" stroke="#231f20" stroke-width="1"/>
<rect x="931.65" y="126.75" width="20.90" height="223.60" fill="url(#gj)" stroke="#231f20" stroke-width="1.5"/>
<path d="M931.90 164.20h3.5M952.30 164.20h-3.5M931.90 237.20h3.5M952.30 237.20h-3.5M931.90 310.80h3.5M952.30 310.80h-3.5" fill="none" stroke="#231f20" stroke-width="1"/>
<rect x="1461.20" y="126.30" width="21.30" height="228.00" fill="#0a0a0a"/>
<rect x="1463.00" y="126.80" width="17.70" height="226.30" fill="url(#gg)"/>
<rect x="1461.20" y="118.80" width="21.30" height="8.00" rx="0.8" fill="#ed2024"/>
<path d="M1462.70 198.30h3.5M1481.00 198.30h-3.5M1462.70 275.30h3.5M1481.00 275.30h-3.5" fill="none" stroke="#231f20" stroke-width="1"/>
<rect x="1956.40" y="133.00" width="23.60" height="220.40" fill="#0a0a0a"/>
<rect x="1958.20" y="133.50" width="20.00" height="218.70" fill="url(#gg)"/>
<rect x="1956.40" y="125.00" width="23.60" height="8.50" rx="0.8" fill="#ed2024"/>
<path d="M1957.90 200.00h3.5M1978.50 200.00h-3.5M1957.90 276.00h3.5M1978.50 276.00h-3.5" fill="none" stroke="#231f20" stroke-width="1"/>
<text x="476.02" y="30.00" textLength="155.1" lengthAdjust="spacingAndGlyphs" font-size="28.5">Mirror Effect</text>
<text x="1372.63" y="30.00" textLength="319.5" lengthAdjust="spacingAndGlyphs" font-size="28.5">Signifcance - Mirror Effect</text>
<text x="8.75" y="80.50" textLength="28.5" lengthAdjust="spacingAndGlyphs" font-size="48.7">A</text>
<text x="1091.93" y="80.50" textLength="28.4" lengthAdjust="spacingAndGlyphs" font-size="48.7">B</text>
<text x="168.76" y="102.00" textLength="198.6" lengthAdjust="spacingAndGlyphs" font-size="28.5">Tested on Asian</text>
<text x="626.31" y="102.00" textLength="287.3" lengthAdjust="spacingAndGlyphs" font-size="28.5">Tested on Chimpanzee</text>
<text x="149.57" y="397.60" textLength="257.0" lengthAdjust="spacingAndGlyphs" font-size="28.5">Tested on Caucasian</text>
<text x="657.06" y="397.60" textLength="223.0" lengthAdjust="spacingAndGlyphs" font-size="28.5">Tested on Human</text>
<text x="1187.56" y="103.00" textLength="198.8" lengthAdjust="spacingAndGlyphs" font-size="28.5">Tested on Asian</text>
<text x="1643.56" y="103.00" textLength="287.8" lengthAdjust="spacingAndGlyphs" font-size="28.5">Tested on Chimpanzee</text>
<text x="1173.07" y="399.10" textLength="256.0" lengthAdjust="spacingAndGlyphs" font-size="28.5">Tested on Caucasian</text>
<text x="1674.56" y="398.80" textLength="223.0" lengthAdjust="spacingAndGlyphs" font-size="28.5">Tested on Human</text>
<text x="90.72" y="136.80" textLength="30.0" lengthAdjust="spacingAndGlyphs" font-size="26.8">10</text>
<text x="105.52" y="181.95" textLength="15.6" lengthAdjust="spacingAndGlyphs" font-size="26.8">8</text>
<text x="105.04" y="231.90" textLength="16.1" lengthAdjust="spacingAndGlyphs" font-size="26.8">6</text>
<text x="105.99" y="281.80" textLength="14.7" lengthAdjust="spacingAndGlyphs" font-size="26.8">4</text>
<text x="105.04" y="331.40" textLength="16.1" lengthAdjust="spacingAndGlyphs" font-size="26.8">2</text>
<text x="89.94" y="433.40" textLength="31.4" lengthAdjust="spacingAndGlyphs" font-size="26.8">10</text>
<text x="104.53" y="478.50" textLength="17.3" lengthAdjust="spacingAndGlyphs" font-size="26.8">8</text>
<text x="103.99" y="529.60" textLength="17.9" lengthAdjust="spacingAndGlyphs" font-size="26.8">6</text>
<text x="105.04" y="579.40" textLength="16.3" lengthAdjust="spacingAndGlyphs" font-size="26.8">4</text>
<text x="103.99" y="629.50" textLength="17.9" lengthAdjust="spacingAndGlyphs" font-size="26.8">2</text>
<text x="125.42" y="683.75" textLength="14.7" lengthAdjust="spacingAndGlyphs" font-size="26.8">0</text>
<text x="257.92" y="683.75" textLength="36.9" lengthAdjust="spacingAndGlyphs" font-size="26.8">0.5</text>
<text x="413.22" y="683.75" textLength="11.4" lengthAdjust="spacingAndGlyphs" font-size="26.8">1</text>
<text x="616.11" y="679.50" textLength="15.9" lengthAdjust="spacingAndGlyphs" font-size="26.8">0</text>
<text x="749.17" y="679.50" textLength="36.9" lengthAdjust="spacingAndGlyphs" font-size="26.8">0.5</text>
<text x="905.04" y="679.50" textLength="10.7" lengthAdjust="spacingAndGlyphs" font-size="26.8">1</text>
<text x="1146.16" y="685.00" textLength="15.0" lengthAdjust="spacingAndGlyphs" font-size="26.8">0</text>
<text x="1278.42" y="685.00" textLength="36.9" lengthAdjust="spacingAndGlyphs" font-size="26.8">0.5</text>
<text x="1433.69" y="685.00" textLength="11.7" lengthAdjust="spacingAndGlyphs" font-size="26.8">1</text>
<text x="1639.36" y="685.00" textLength="15.9" lengthAdjust="spacingAndGlyphs" font-size="26.8">0</text>
<text x="1771.92" y="685.00" textLength="36.9" lengthAdjust="spacingAndGlyphs" font-size="26.8">0.5</text>
<text x="1926.94" y="685.00" textLength="11.7" lengthAdjust="spacingAndGlyphs" font-size="26.8">1</text>
<text x="127.06" y="727.50" textLength="310.5" lengthAdjust="spacingAndGlyphs" font-size="28.5">Race ratio in training set:</text>
<text x="128.74" y="761.75" textLength="127.3" lengthAdjust="spacingAndGlyphs" font-size="28.5">Caucasian</text>
<text x="365.75" y="761.75" textLength="67.8" lengthAdjust="spacingAndGlyphs" font-size="28.5">Asian</text>
<text x="602.12" y="723.25" textLength="344.7" lengthAdjust="spacingAndGlyphs" font-size="28.5">Species ratio in training set:</text>
<text x="613.49" y="758.00" textLength="93.1" lengthAdjust="spacingAndGlyphs" font-size="28.5">Human</text>
<text x="769.93" y="758.00" textLength="158.2" lengthAdjust="spacingAndGlyphs" font-size="28.5">Chimpanzee</text>
<text x="1147.31" y="728.75" textLength="310.7" lengthAdjust="spacingAndGlyphs" font-size="28.5">Race ratio in training set:</text>
<text x="1149.24" y="763.00" textLength="127.3" lengthAdjust="spacingAndGlyphs" font-size="28.5">Caucasian</text>
<text x="1386.25" y="763.00" textLength="67.8" lengthAdjust="spacingAndGlyphs" font-size="28.5">Asian</text>
<text x="1624.87" y="728.75" textLength="344.9" lengthAdjust="spacingAndGlyphs" font-size="28.5">Species ratio in training set:</text>
<text x="1636.23" y="763.00" textLength="93.7" lengthAdjust="spacingAndGlyphs" font-size="28.5">Human</text>
<text x="1792.67" y="763.00" textLength="158.7" lengthAdjust="spacingAndGlyphs" font-size="28.5">Chimpanzee</text>
<text x="470.43" y="149.70" textLength="35.0" lengthAdjust="spacingAndGlyphs" font-size="26.8">1.1</text>
<text x="470.65" y="213.40" textLength="12.0" lengthAdjust="spacingAndGlyphs" font-size="26.8">1</text>
<text x="469.43" y="278.00" textLength="38.5" lengthAdjust="spacingAndGlyphs" font-size="26.8">0.9</text>
<text x="469.43" y="343.10" textLength="38.5" lengthAdjust="spacingAndGlyphs" font-size="26.8">0.8</text>
<text x="958.36" y="171.90" textLength="11.9" lengthAdjust="spacingAndGlyphs" font-size="26.8">1</text>
<text x="958.91" y="245.80" textLength="35.1" lengthAdjust="spacingAndGlyphs" font-size="26.8">0.8</text>
<text x="958.91" y="320.50" textLength="35.1" lengthAdjust="spacingAndGlyphs" font-size="26.8">0.6</text>
<text x="1492.53" y="137.50" textLength="17.2" lengthAdjust="spacingAndGlyphs" font-size="26.8">0</text>
<text x="1492.58" y="210.40" textLength="42.3" lengthAdjust="spacingAndGlyphs" font-size="26.8">-10</text>
<text x="1492.58" y="282.30" textLength="42.3" lengthAdjust="spacingAndGlyphs" font-size="26.8">-20</text>
<text x="1492.58" y="353.50" textLength="42.3" lengthAdjust="spacingAndGlyphs" font-size="26.8">-30</text>
<text x="1992.49" y="142.70" textLength="16.2" lengthAdjust="spacingAndGlyphs" font-size="26.8">0</text>
<text x="1992.48" y="214.60" textLength="42.7" lengthAdjust="spacingAndGlyphs" font-size="26.8">-10</text>
<text x="1992.48" y="286.80" textLength="42.7" lengthAdjust="spacingAndGlyphs" font-size="26.8">-20</text>
<text x="1992.48" y="358.00" textLength="42.7" lengthAdjust="spacingAndGlyphs" font-size="26.8">-30</text>
<text textLength="82.0" lengthAdjust="spacingAndGlyphs" transform="translate(32.30 264.74) rotate(-90)" font-size="28.5">Size of</text>
<text textLength="168.4" lengthAdjust="spacingAndGlyphs" transform="translate(69.30 308.30) rotate(-90)" font-size="28.5">feature space</text>
<text textLength="230.6" lengthAdjust="spacingAndGlyphs" transform="translate(546.70 358.47) rotate(-90)" font-size="28.5">Relative change of</text>
<text textLength="104.5" lengthAdjust="spacingAndGlyphs" transform="translate(585.00 291.88) rotate(-90)" font-size="28.5">distance</text>
<text textLength="229.9" lengthAdjust="spacingAndGlyphs" transform="translate(1027.90 358.47) rotate(-90)" font-size="28.5">Relative change of</text>
<text textLength="104.5" lengthAdjust="spacingAndGlyphs" transform="translate(1066.50 291.88) rotate(-90)" font-size="28.5">distance</text>
<text textLength="191.3" lengthAdjust="spacingAndGlyphs" transform="translate(1577.60 334.79) rotate(-90)" font-size="28.5">Log of p-values</text>
<text textLength="191.3" lengthAdjust="spacingAndGlyphs" transform="translate(2077.80 338.99) rotate(-90)" font-size="28.5">Log of p-values</text>
</svg>
</body></html>
